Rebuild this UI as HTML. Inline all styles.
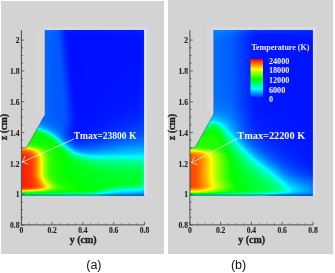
<!DOCTYPE html>
<html><head><meta charset="utf-8"><style>
html,body{margin:0;padding:0;background:#fff;width:335px;height:273px;overflow:hidden}
#c{position:relative;width:335px;height:273px}
.p{position:absolute;background:#d3d3d3}
#f i{position:absolute;height:1px;display:block}
svg{position:absolute;left:0;top:0;will-change:transform}
.tl{font:bold 7.6px "Liberation Serif",serif;fill:#202020;stroke:#202020;stroke-width:0.1px}
.al{font:bold 10px "Liberation Serif",serif;fill:#1a1a1a;stroke:#1a1a1a;stroke-width:0.3px}
.tm{font:bold 9.5px "Liberation Serif",serif;fill:#f4f6ff}
.tm2{font:bold 10.3px "Liberation Serif",serif;fill:#f4f6ff}
.lg{font:bold 8.2px "Liberation Serif",serif;fill:#eef0f8}
.pl{font:12.5px "Liberation Sans",sans-serif;fill:#111}
</style></head><body><div id="c">
<div class="p" style="left:1px;top:1px;width:163px;height:252.5px"></div>
<div class="p" style="left:168px;top:0px;width:165px;height:253.5px"></div>
<div id="f">
<i style="left:45px;top:30px;width:99px;background:linear-gradient(90deg,#0072ff 0.5px,#0066ff 8.5px,#0061ff 12.5px,#0041ff 16.5px,#001eff 20.5px,#0018ff 24.5px,#001bff 93.5px,#0026ff 98.5px)"></i>
<i style="left:45px;top:31px;width:99px;background:linear-gradient(90deg,#0070ff 0.5px,#0064ff 8.5px,#005fff 12.5px,#0049ff 15.5px,#001cff 20.5px,#0016ff 24.5px,#0019ff 93.5px,#0024ff 98.5px)"></i>
<i style="left:45px;top:32px;width:99px;background:linear-gradient(90deg,#006dff 0.5px,#0061ff 8.5px,#005dff 12.5px,#0047ff 15.5px,#001aff 20.5px,#0014ff 24.5px,#0017ff 93.5px,#0022ff 98.5px)"></i>
<i style="left:45px;top:33px;width:99px;background:linear-gradient(90deg,#006bff 0.5px,#005fff 8.5px,#005bff 12.5px,#0046ff 15.5px,#0019ff 20.5px,#0012ff 23.5px,#0015ff 93.5px,#0020ff 98.5px)"></i>
<i style="left:45px;top:34px;width:99px;background:linear-gradient(90deg,#006aff 0.5px,#005eff 8.5px,#005aff 12.5px,#0046ff 15.5px,#0019ff 20.5px,#0010ff 23.5px,#0014ff 93.5px,#001eff 98.5px)"></i>
<i style="left:45px;top:35px;width:99px;background:linear-gradient(90deg,#0069ff 0.5px,#005dff 8.5px,#0059ff 12.5px,#0046ff 15.5px,#0018ff 20.5px,#0010ff 23.5px,#0013ff 93.5px,#001dff 98.5px)"></i>
<i style="left:45px;top:36px;width:99px;background:linear-gradient(90deg,#0068ff 0.5px,#005cff 8.5px,#0059ff 12.5px,#0046ff 15.5px,#0018ff 20.5px,#000fff 23.5px,#0012ff 93.5px,#001dff 98.5px)"></i>
<i style="left:45px;top:37px;width:99px;background:linear-gradient(90deg,#0068ff 0.5px,#005cff 8.5px,#0059ff 12.5px,#0046ff 15.5px,#0019ff 20.5px,#000fff 23.5px,#0012ff 93.5px,#001cff 98.5px)"></i>
<i style="left:45px;top:38px;width:99px;background:linear-gradient(90deg,#0068ff 0.5px,#005cff 8.5px,#0055ff 13.5px,#0034ff 17.5px,#0013ff 21.5px,#000eff 26.5px,#0011ff 93.5px,#001cff 98.5px)"></i>
<i style="left:45px;top:39px;width:99px;background:linear-gradient(90deg,#0068ff 0.5px,#005cff 8.5px,#0055ff 13.5px,#0035ff 17.5px,#0014ff 21.5px,#000eff 25.5px,#0011ff 93.5px,#001cff 98.5px)"></i>
<i style="left:45px;top:40px;width:99px;background:linear-gradient(90deg,#0067ff 0.5px,#005bff 8.5px,#0056ff 13.5px,#0036ff 17.5px,#0014ff 21.5px,#000eff 25.5px,#0011ff 93.5px,#001cff 98.5px)"></i>
<i style="left:45px;top:41px;width:99px;background:linear-gradient(90deg,#0067ff 0.5px,#005bff 8.5px,#0056ff 13.5px,#0037ff 17.5px,#0015ff 21.5px,#000eff 25.5px,#0011ff 93.5px,#001cff 98.5px)"></i>
<i style="left:45px;top:42px;width:99px;background:linear-gradient(90deg,#0067ff 0.5px,#005bff 8.5px,#0056ff 13.5px,#0037ff 17.5px,#0015ff 21.5px,#000eff 24.5px,#0011ff 93.5px,#001cff 98.5px)"></i>
<i style="left:45px;top:43px;width:99px;background:linear-gradient(90deg,#0067ff 0.5px,#005bff 8.5px,#0057ff 13.5px,#0038ff 17.5px,#0016ff 21.5px,#000eff 24.5px,#0011ff 93.5px,#001cff 98.5px)"></i>
<i style="left:45px;top:44px;width:99px;background:linear-gradient(90deg,#0067ff 0.5px,#005bff 8.5px,#0057ff 13.5px,#0039ff 17.5px,#0017ff 21.5px,#000eff 24.5px,#0011ff 93.5px,#001cff 98.5px)"></i>
<i style="left:45px;top:45px;width:99px;background:linear-gradient(90deg,#0067ff 0.5px,#005bff 8.5px,#0057ff 13.5px,#0043ff 16.5px,#0017ff 21.5px,#000eff 24.5px,#0011ff 93.5px,#001cff 98.5px)"></i>
<i style="left:45px;top:46px;width:99px;background:linear-gradient(90deg,#0067ff 0.5px,#005bff 8.5px,#0057ff 13.5px,#0044ff 16.5px,#0018ff 21.5px,#000eff 24.5px,#0011ff 93.5px,#001cff 98.5px)"></i>
<i style="left:45px;top:47px;width:99px;background:linear-gradient(90deg,#0067ff 0.5px,#005bff 8.5px,#0058ff 13.5px,#0045ff 16.5px,#0019ff 21.5px,#000eff 24.5px,#0011ff 93.5px,#001cff 98.5px)"></i>
<i style="left:45px;top:48px;width:99px;background:linear-gradient(90deg,#0067ff 0.5px,#005bff 8.5px,#0058ff 13.5px,#0046ff 16.5px,#0019ff 21.5px,#000eff 24.5px,#0011ff 93.5px,#001cff 98.5px)"></i>
<i style="left:45px;top:49px;width:99px;background:linear-gradient(90deg,#0067ff 0.5px,#005bff 8.5px,#0058ff 13.5px,#0047ff 16.5px,#0014ff 22.5px,#000eff 26.5px,#0011ff 93.5px,#001cff 98.5px)"></i>
<i style="left:45px;top:50px;width:99px;background:linear-gradient(90deg,#0067ff 0.5px,#005bff 8.5px,#0058ff 13.5px,#0047ff 16.5px,#0015ff 22.5px,#000eff 26.5px,#0011ff 93.5px,#001cff 98.5px)"></i>
<i style="left:45px;top:51px;width:99px;background:linear-gradient(90deg,#0067ff 0.5px,#005bff 8.5px,#0055ff 14.5px,#0036ff 18.5px,#0015ff 22.5px,#000eff 25.5px,#0011ff 93.5px,#001cff 98.5px)"></i>
<i style="left:45px;top:52px;width:99px;background:linear-gradient(90deg,#0067ff 0.5px,#005bff 8.5px,#0056ff 14.5px,#0037ff 18.5px,#0016ff 22.5px,#000eff 25.5px,#0011ff 93.5px,#001cff 98.5px)"></i>
<i style="left:45px;top:53px;width:99px;background:linear-gradient(90deg,#0067ff 0.5px,#005bff 8.5px,#0056ff 14.5px,#0038ff 18.5px,#0017ff 22.5px,#000eff 25.5px,#0011ff 93.5px,#001cff 98.5px)"></i>
<i style="left:45px;top:54px;width:99px;background:linear-gradient(90deg,#0067ff 0.5px,#005bff 8.5px,#0056ff 14.5px,#0039ff 18.5px,#0017ff 22.5px,#000eff 25.5px,#0011ff 93.5px,#001cff 98.5px)"></i>
<i style="left:45px;top:55px;width:99px;background:linear-gradient(90deg,#0067ff 0.5px,#005bff 8.5px,#0057ff 14.5px,#003aff 18.5px,#0018ff 22.5px,#000eff 25.5px,#0011ff 93.5px,#001cff 98.5px)"></i>
<i style="left:45px;top:56px;width:99px;background:linear-gradient(90deg,#0067ff 0.5px,#005bff 8.5px,#0057ff 14.5px,#003bff 18.5px,#0019ff 22.5px,#000eff 25.5px,#0011ff 93.5px,#001cff 98.5px)"></i>
<i style="left:45px;top:57px;width:99px;background:linear-gradient(90deg,#0067ff 0.5px,#005bff 8.5px,#0057ff 14.5px,#003cff 18.5px,#0014ff 23.5px,#000eff 27.5px,#0011ff 93.5px,#001cff 98.5px)"></i>
<i style="left:45px;top:58px;width:99px;background:linear-gradient(90deg,#0067ff 0.5px,#005bff 8.5px,#0057ff 14.5px,#003dff 18.5px,#0014ff 23.5px,#000eff 27.5px,#0011ff 93.5px,#001cff 98.5px)"></i>
<i style="left:45px;top:59px;width:99px;background:linear-gradient(90deg,#0067ff 0.5px,#005bff 8.5px,#0058ff 14.5px,#0046ff 17.5px,#0015ff 23.5px,#000eff 27.5px,#0011ff 93.5px,#001cff 98.5px)"></i>
<i style="left:45px;top:60px;width:99px;background:linear-gradient(90deg,#0067ff 0.5px,#005bff 8.5px,#0058ff 14.5px,#0047ff 17.5px,#0015ff 23.5px,#000eff 27.5px,#0011ff 93.5px,#001cff 98.5px)"></i>
<i style="left:45px;top:61px;width:99px;background:linear-gradient(90deg,#0067ff 0.5px,#005bff 8.5px,#0058ff 14.5px,#0048ff 17.5px,#0016ff 23.5px,#000eff 26.5px,#0012ff 93.5px,#001cff 98.5px)"></i>
<i style="left:45px;top:62px;width:99px;background:linear-gradient(90deg,#0067ff 0.5px,#005bff 8.5px,#0058ff 14.5px,#0048ff 17.5px,#0017ff 23.5px,#000eff 26.5px,#0012ff 93.5px,#001cff 98.5px)"></i>
<i style="left:45px;top:63px;width:99px;background:linear-gradient(90deg,#0067ff 0.5px,#005bff 8.5px,#0055ff 15.5px,#0038ff 19.5px,#0017ff 23.5px,#000eff 26.5px,#0012ff 93.5px,#001cff 98.5px)"></i>
<i style="left:45px;top:64px;width:99px;background:linear-gradient(90deg,#0067ff 0.5px,#005bff 8.5px,#0056ff 15.5px,#0039ff 19.5px,#0018ff 23.5px,#000eff 26.5px,#0012ff 93.5px,#001dff 98.5px)"></i>
<i style="left:45px;top:65px;width:99px;background:linear-gradient(90deg,#0067ff 0.5px,#005bff 8.5px,#0056ff 15.5px,#003aff 19.5px,#0013ff 24.5px,#000eff 29.5px,#0012ff 93.5px,#001dff 98.5px)"></i>
<i style="left:45px;top:66px;width:99px;background:linear-gradient(90deg,#0067ff 0.5px,#005bff 8.5px,#0056ff 15.5px,#003bff 19.5px,#0014ff 24.5px,#000eff 28.5px,#0012ff 93.5px,#001dff 98.5px)"></i>
<i style="left:45px;top:67px;width:99px;background:linear-gradient(90deg,#0067ff 0.5px,#005bff 8.5px,#0057ff 15.5px,#003bff 19.5px,#0014ff 24.5px,#000eff 28.5px,#0012ff 93.5px,#001dff 98.5px)"></i>
<i style="left:45px;top:68px;width:99px;background:linear-gradient(90deg,#0067ff 0.5px,#005bff 8.5px,#0057ff 15.5px,#003cff 19.5px,#0015ff 24.5px,#000eff 28.5px,#0012ff 93.5px,#001dff 98.5px)"></i>
<i style="left:45px;top:69px;width:99px;background:linear-gradient(90deg,#0067ff 0.5px,#005bff 8.5px,#0057ff 15.5px,#003dff 19.5px,#0015ff 24.5px,#000eff 28.5px,#0012ff 93.5px,#001dff 98.5px)"></i>
<i style="left:45px;top:70px;width:99px;background:linear-gradient(90deg,#0067ff 0.5px,#005bff 8.5px,#0057ff 15.5px,#003eff 19.5px,#0016ff 24.5px,#000eff 27.5px,#0012ff 93.5px,#001dff 98.5px)"></i>
<i style="left:45px;top:71px;width:99px;background:linear-gradient(90deg,#0067ff 0.5px,#005bff 8.5px,#0058ff 15.5px,#003fff 19.5px,#0017ff 24.5px,#000eff 27.5px,#0012ff 93.5px,#001dff 98.5px)"></i>
<i style="left:45px;top:72px;width:99px;background:linear-gradient(90deg,#0067ff 0.5px,#005bff 8.5px,#0058ff 15.5px,#0040ff 19.5px,#0017ff 24.5px,#000eff 27.5px,#0012ff 93.5px,#001dff 98.5px)"></i>
<i style="left:45px;top:73px;width:99px;background:linear-gradient(90deg,#0067ff 0.5px,#005bff 8.5px,#0058ff 15.5px,#0048ff 18.5px,#0018ff 24.5px,#000eff 27.5px,#0012ff 93.5px,#001dff 98.5px)"></i>
<i style="left:45px;top:74px;width:99px;background:linear-gradient(90deg,#0067ff 0.5px,#005bff 8.5px,#0058ff 15.5px,#0049ff 18.5px,#0019ff 24.5px,#000eff 27.5px,#0012ff 93.5px,#001dff 98.5px)"></i>
<i style="left:45px;top:75px;width:99px;background:linear-gradient(90deg,#0067ff 0.5px,#005bff 8.5px,#0059ff 15.5px,#004aff 18.5px,#0014ff 25.5px,#000eff 29.5px,#0013ff 93.5px,#001dff 98.5px)"></i>
<i style="left:45px;top:76px;width:99px;background:linear-gradient(90deg,#0067ff 0.5px,#005bff 8.5px,#0056ff 16.5px,#003aff 20.5px,#0014ff 25.5px,#000eff 29.5px,#0013ff 93.5px,#001eff 98.5px)"></i>
<i style="left:45px;top:77px;width:99px;background:linear-gradient(90deg,#0067ff 0.5px,#005bff 8.5px,#0056ff 16.5px,#003bff 20.5px,#0015ff 25.5px,#000eff 29.5px,#0013ff 93.5px,#001eff 98.5px)"></i>
<i style="left:45px;top:78px;width:99px;background:linear-gradient(90deg,#0067ff 0.5px,#005bff 8.5px,#0056ff 16.5px,#003cff 20.5px,#0015ff 25.5px,#000eff 29.5px,#0013ff 93.5px,#001eff 98.5px)"></i>
<i style="left:45px;top:79px;width:99px;background:linear-gradient(90deg,#0067ff 0.5px,#005bff 8.5px,#0057ff 16.5px,#003dff 20.5px,#0016ff 25.5px,#000eff 29.5px,#0013ff 93.5px,#001eff 98.5px)"></i>
<i style="left:45px;top:80px;width:99px;background:linear-gradient(90deg,#0067ff 0.5px,#005bff 8.5px,#0057ff 16.5px,#003eff 20.5px,#0017ff 25.5px,#000eff 28.5px,#0013ff 93.5px,#001eff 98.5px)"></i>
<i style="left:45px;top:81px;width:99px;background:linear-gradient(90deg,#0067ff 0.5px,#005bff 8.5px,#0057ff 16.5px,#003fff 20.5px,#0017ff 25.5px,#000eff 28.5px,#0013ff 93.5px,#001eff 98.5px)"></i>
<i style="left:45px;top:82px;width:99px;background:linear-gradient(90deg,#0067ff 0.5px,#005bff 8.5px,#0058ff 16.5px,#003fff 20.5px,#0018ff 25.5px,#000eff 28.5px,#0014ff 93.5px,#001fff 98.5px)"></i>
<i style="left:45px;top:83px;width:99px;background:linear-gradient(90deg,#0067ff 0.5px,#005bff 8.5px,#0058ff 16.5px,#0040ff 20.5px,#0018ff 25.5px,#000eff 28.5px,#0013ff 92.5px,#001fff 98.5px)"></i>
<i style="left:45px;top:84px;width:99px;background:linear-gradient(90deg,#0067ff 0.5px,#005bff 8.5px,#0058ff 16.5px,#0041ff 20.5px,#0014ff 26.5px,#000eff 30.5px,#0014ff 93.5px,#001fff 98.5px)"></i>
<i style="left:45px;top:85px;width:99px;background:linear-gradient(90deg,#0067ff 0.5px,#005bff 8.5px,#0058ff 16.5px,#0042ff 20.5px,#0014ff 26.5px,#000eff 30.5px,#0014ff 93.5px,#001fff 98.5px)"></i>
<i style="left:45px;top:86px;width:99px;background:linear-gradient(90deg,#0067ff 0.5px,#005bff 8.5px,#0058ff 16.5px,#0042ff 20.5px,#0015ff 26.5px,#000eff 30.5px,#0014ff 93.5px,#001fff 98.5px)"></i>
<i style="left:45px;top:87px;width:99px;background:linear-gradient(90deg,#0067ff 0.5px,#005bff 8.5px,#0059ff 16.5px,#0043ff 20.5px,#0015ff 26.5px,#000eff 30.5px,#0015ff 93.5px,#0020ff 98.5px)"></i>
<i style="left:45px;top:88px;width:99px;background:linear-gradient(90deg,#0067ff 0.5px,#005bff 8.5px,#0056ff 17.5px,#003cff 21.5px,#0016ff 26.5px,#000eff 30.5px,#0015ff 93.5px,#0020ff 98.5px)"></i>
<i style="left:45px;top:89px;width:99px;background:linear-gradient(90deg,#0067ff 0.5px,#005bff 8.5px,#0056ff 17.5px,#003dff 21.5px,#0017ff 26.5px,#000eff 30.5px,#0014ff 92.5px,#0020ff 98.5px)"></i>
<i style="left:45px;top:90px;width:99px;background:linear-gradient(90deg,#0067ff 0.5px,#005bff 8.5px,#0057ff 17.5px,#003dff 21.5px,#0017ff 26.5px,#000eff 29.5px,#0014ff 92.5px,#0020ff 98.5px)"></i>
<i style="left:45px;top:91px;width:99px;background:linear-gradient(90deg,#0067ff 0.5px,#005bff 8.5px,#0057ff 17.5px,#003eff 21.5px,#0018ff 26.5px,#000eff 29.5px,#0015ff 92.5px,#0021ff 98.5px)"></i>
<i style="left:45px;top:92px;width:99px;background:linear-gradient(90deg,#0067ff 0.5px,#005bff 8.5px,#0057ff 17.5px,#003fff 21.5px,#0013ff 27.5px,#000eff 32.5px,#0015ff 92.5px,#0021ff 98.5px)"></i>
<i style="left:45px;top:93px;width:99px;background:linear-gradient(90deg,#0067ff 0.5px,#005bff 8.5px,#0057ff 17.5px,#0040ff 21.5px,#0014ff 27.5px,#000eff 31.5px,#0015ff 92.5px,#0021ff 98.5px)"></i>
<i style="left:45px;top:94px;width:99px;background:linear-gradient(90deg,#0067ff 0.5px,#005bff 8.5px,#0058ff 17.5px,#0041ff 21.5px,#0014ff 27.5px,#000eff 31.5px,#0016ff 92.5px,#0022ff 98.5px)"></i>
<i style="left:45px;top:95px;width:99px;background:linear-gradient(90deg,#0067ff 0.5px,#005bff 8.5px,#0058ff 17.5px,#0041ff 21.5px,#0015ff 27.5px,#000eff 31.5px,#0016ff 92.5px,#0022ff 98.5px)"></i>
<i style="left:45px;top:96px;width:99px;background:linear-gradient(90deg,#0067ff 0.5px,#005bff 8.5px,#0058ff 17.5px,#0042ff 21.5px,#0015ff 27.5px,#000eff 31.5px,#0016ff 92.5px,#0022ff 98.5px)"></i>
<i style="left:45px;top:97px;width:99px;background:linear-gradient(90deg,#0068ff 0.5px,#005bff 8.5px,#0058ff 17.5px,#0043ff 21.5px,#0016ff 27.5px,#000eff 31.5px,#0016ff 91.5px,#0023ff 98.5px)"></i>
<i style="left:45px;top:98px;width:99px;background:linear-gradient(90deg,#0068ff 0.5px,#005cff 7.5px,#0058ff 17.5px,#0043ff 21.5px,#0017ff 27.5px,#000eff 31.5px,#0016ff 91.5px,#0023ff 98.5px)"></i>
<i style="left:45px;top:99px;width:99px;background:linear-gradient(90deg,#0068ff 0.5px,#005cff 7.5px,#0059ff 17.5px,#0044ff 21.5px,#0017ff 27.5px,#000eff 31.5px,#0017ff 91.5px,#0024ff 98.5px)"></i>
<i style="left:45px;top:100px;width:99px;background:linear-gradient(90deg,#0068ff 0.5px,#005cff 7.5px,#0056ff 18.5px,#0035ff 23.5px,#0013ff 28.5px,#000eff 33.5px,#0017ff 91.5px,#0024ff 98.5px)"></i>
<i style="left:45px;top:101px;width:99px;background:linear-gradient(90deg,#0068ff 0.5px,#005cff 7.5px,#0056ff 18.5px,#003eff 22.5px,#0013ff 28.5px,#000eff 33.5px,#0018ff 91.5px,#0025ff 98.5px)"></i>
<i style="left:45px;top:102px;width:99px;background:linear-gradient(90deg,#0068ff 0.5px,#005cff 7.5px,#0057ff 18.5px,#003fff 22.5px,#0014ff 28.5px,#000eff 32.5px,#0017ff 89.5px,#0023ff 97.5px,#0025ff 98.5px)"></i>
<i style="left:45px;top:103px;width:99px;background:linear-gradient(90deg,#0068ff 0.5px,#005cff 7.5px,#0057ff 18.5px,#0040ff 22.5px,#0015ff 28.5px,#000eff 32.5px,#0018ff 89.5px,#0023ff 97.5px,#0026ff 98.5px)"></i>
<i style="left:45px;top:104px;width:99px;background:linear-gradient(90deg,#0068ff 0.5px,#005cff 7.5px,#0057ff 18.5px,#0040ff 22.5px,#0015ff 28.5px,#000eff 32.5px,#0018ff 87.5px,#0021ff 96.5px,#0026ff 98.5px)"></i>
<i style="left:45px;top:105px;width:99px;background:linear-gradient(90deg,#0068ff 0.5px,#005cff 7.5px,#0058ff 18.5px,#0041ff 22.5px,#0016ff 28.5px,#000eff 32.5px,#0018ff 85.5px,#001fff 95.5px,#0027ff 98.5px)"></i>
<i style="left:45px;top:106px;width:99px;background:linear-gradient(90deg,#0069ff 0.5px,#005cff 7.5px,#0058ff 18.5px,#0042ff 22.5px,#0016ff 28.5px,#000eff 32.5px,#0016ff 75.5px,#001eff 94.5px,#0028ff 98.5px)"></i>
<i style="left:45px;top:107px;width:99px;background:linear-gradient(90deg,#0069ff 0.5px,#005cff 7.5px,#0058ff 18.5px,#0043ff 22.5px,#0017ff 28.5px,#000eff 32.5px,#0016ff 73.5px,#001fff 94.5px,#0028ff 98.5px)"></i>
<i style="left:45px;top:108px;width:99px;background:linear-gradient(90deg,#0069ff 0.5px,#005cff 7.5px,#0058ff 18.5px,#0043ff 22.5px,#0018ff 28.5px,#000eff 32.5px,#0016ff 72.5px,#0020ff 94.5px,#0029ff 98.5px)"></i>
<i style="left:45px;top:109px;width:99px;background:linear-gradient(90deg,#0069ff 0.5px,#005cff 7.5px,#0059ff 18.5px,#0044ff 22.5px,#0018ff 28.5px,#000eff 32.5px,#0016ff 71.5px,#0020ff 94.5px,#002aff 98.5px)"></i>
<i style="left:45px;top:110px;width:99px;background:linear-gradient(90deg,#0069ff 0.5px,#005cff 7.5px,#0059ff 18.5px,#0045ff 22.5px,#0014ff 29.5px,#000eff 34.5px,#0017ff 71.5px,#0021ff 94.5px,#002bff 98.5px)"></i>
<i style="left:45px;top:111px;width:99px;background:linear-gradient(90deg,#006aff 0.5px,#005cff 7.5px,#0056ff 19.5px,#0036ff 24.5px,#0015ff 29.5px,#000eff 34.5px,#0017ff 70.5px,#0022ff 94.5px,#002cff 98.5px)"></i>
<i style="left:45px;top:112px;width:99px;background:linear-gradient(90deg,#006aff 0.5px,#005cff 7.5px,#0057ff 19.5px,#0037ff 24.5px,#0015ff 29.5px,#000eff 33.5px,#0017ff 69.5px,#0023ff 94.5px,#002dff 98.5px)"></i>
<i style="left:45px;top:113px;width:99px;background:linear-gradient(90deg,#006aff 0.5px,#005dff 7.5px,#0057ff 19.5px,#0038ff 24.5px,#0016ff 29.5px,#000eff 33.5px,#0017ff 68.5px,#0024ff 94.5px,#002eff 98.5px)"></i>
<i style="left:45px;top:114px;width:99px;background:linear-gradient(90deg,#006aff 0.5px,#005dff 7.5px,#0057ff 19.5px,#0039ff 24.5px,#0016ff 29.5px,#000fff 33.5px,#0017ff 67.5px,#0025ff 94.5px,#002fff 98.5px)"></i>
<i style="left:45px;top:115px;width:99px;background:linear-gradient(90deg,#006aff 0.5px,#005dff 7.5px,#0058ff 19.5px,#003aff 24.5px,#0017ff 29.5px,#000fff 33.5px,#0017ff 66.5px,#0026ff 94.5px,#0030ff 98.5px)"></i>
<i style="left:44px;top:116px;width:100px;background:linear-gradient(90deg,#006cff 0.5px,#005eff 7.5px,#0058ff 20.5px,#003aff 25.5px,#0017ff 30.5px,#000fff 34.5px,#0017ff 66.5px,#002aff 96.5px,#0031ff 99.5px)"></i>
<i style="left:43px;top:117px;width:101px;background:linear-gradient(90deg,#0070ff 0.5px,#005fff 7.5px,#0058ff 21.5px,#003aff 26.5px,#0018ff 31.5px,#000fff 35.5px,#0018ff 66.5px,#002bff 97.5px,#0033ff 100.5px)"></i>
<i style="left:43px;top:118px;width:101px;background:linear-gradient(90deg,#0070ff 0.5px,#0061ff 6.5px,#0058ff 21.5px,#003aff 26.5px,#0018ff 31.5px,#000fff 35.5px,#0018ff 65.5px,#002cff 97.5px,#0034ff 100.5px)"></i>
<i style="left:42px;top:119px;width:102px;background:linear-gradient(90deg,#0074ff 0.5px,#0063ff 6.5px,#0058ff 22.5px,#003aff 27.5px,#0018ff 32.5px,#000fff 36.5px,#0019ff 66.5px,#002eff 98.5px,#0036ff 101.5px)"></i>
<i style="left:42px;top:120px;width:102px;background:linear-gradient(90deg,#0075ff 0.5px,#0065ff 5.5px,#0058ff 22.5px,#0032ff 28.5px,#0014ff 33.5px,#0010ff 42.5px,#001cff 69.5px,#002fff 98.5px,#0037ff 101.5px)"></i>
<i style="left:41px;top:121px;width:103px;background:linear-gradient(90deg,#007bff 0.5px,#0069ff 5.5px,#005aff 22.5px,#0040ff 27.5px,#0018ff 33.5px,#0010ff 37.5px,#0019ff 65.5px,#0031ff 99.5px,#0039ff 102.5px)"></i>
<i style="left:41px;top:122px;width:103px;background:linear-gradient(90deg,#007eff 0.5px,#006cff 5.5px,#005aff 22.5px,#003fff 27.5px,#0017ff 33.5px,#0010ff 37.5px,#0019ff 64.5px,#0033ff 99.5px,#003aff 102.5px)"></i>
<i style="left:40px;top:123px;width:104px;background:linear-gradient(90deg,#0089ff 0.5px,#0072ff 5.5px,#0061ff 17.5px,#005aff 23.5px,#0036ff 29.5px,#0017ff 34.5px,#0010ff 39.5px,#001aff 65.5px,#002cff 91.5px,#0037ff 101.5px,#003cff 103.5px)"></i>
<i style="left:40px;top:124px;width:104px;background:linear-gradient(90deg,#0091ff 0.5px,#0078ff 5.5px,#0065ff 15.5px,#0059ff 23.5px,#002eff 30.5px,#0014ff 35.5px,#0014ff 54.5px,#002eff 91.5px,#0039ff 101.5px,#003eff 103.5px)"></i>
<i style="left:39px;top:125px;width:105px;background:linear-gradient(90deg,#00a7ff 0.5px,#0089ff 4.5px,#006eff 12.5px,#005dff 23.5px,#003bff 29.5px,#0017ff 35.5px,#0011ff 42.5px,#001eff 67.5px,#002fff 90.5px,#003bff 102.5px,#0040ff 104.5px)"></i>
<i style="left:38px;top:126px;width:106px;background:linear-gradient(90deg,#00c2ff 0.5px,#009cff 4.5px,#007dff 10.5px,#0065ff 20.5px,#0058ff 25.5px,#001aff 35.5px,#0012ff 40.5px,#001bff 64.5px,#0031ff 89.5px,#003bff 102.5px,#0043ff 105.5px)"></i>
<i style="left:38px;top:127px;width:106px;background:linear-gradient(90deg,#00e0ff 0.5px,#00b8ff 3.5px,#0091ff 8.5px,#0074ff 15.5px,#005dff 24.5px,#001aff 35.5px,#0013ff 40.5px,#001cff 63.5px,#0032ff 88.5px,#003dff 102.5px,#0045ff 105.5px)"></i>
<i style="left:37px;top:128px;width:107px;background:linear-gradient(90deg,#00ffca 0.5px,#00ffe9 1.5px,#00fcff 2.5px,#00c7ff 5.5px,#00a1ff 9.5px,#0082ff 14.5px,#005dff 25.5px,#001eff 35.5px,#0014ff 39.5px,#0019ff 59.5px,#0035ff 89.5px,#0040ff 103.5px,#0047ff 106.5px)"></i>
<i style="left:37px;top:129px;width:107px;background:linear-gradient(90deg,#00ff86 0.5px,#00fff6 4.5px,#00f0ff 5.5px,#00cdff 7.5px,#00a2ff 11.5px,#007eff 17.5px,#0057ff 26.5px,#001dff 35.5px,#0014ff 40.5px,#001bff 60.5px,#0037ff 89.5px,#0043ff 103.5px,#004aff 106.5px)"></i>
<i style="left:36px;top:130px;width:108px;background:linear-gradient(90deg,#00ff3a 0.5px,#00ff78 3.5px,#00ffec 7.5px,#00faff 8.5px,#00c3ff 11.5px,#00a3ff 14.5px,#007cff 20.5px,#0057ff 27.5px,#0021ff 35.5px,#0016ff 39.5px,#0019ff 56.5px,#003aff 90.5px,#0045ff 104.5px,#004dff 107.5px)"></i>
<i style="left:36px;top:131px;width:108px;background:linear-gradient(90deg,#00ff1f 0.5px,#00ff45 3.5px,#00ff6d 5.5px,#00ffdc 9.5px,#00fffb 10.5px,#00d4ff 12.5px,#00acff 15.5px,#0083ff 20.5px,#0048ff 29.5px,#0021ff 35.5px,#0017ff 40.5px,#001aff 56.5px,#003dff 89.5px,#0048ff 104.5px,#0050ff 107.5px)"></i>
<i style="left:35px;top:132px;width:109px;background:linear-gradient(90deg,#00ff07 0.5px,#00ff24 4.5px,#00ff4e 7.5px,#00ff79 9.5px,#00ffb8 11.5px,#00fffb 13.5px,#00d4ff 15.5px,#00a9ff 18.5px,#0085ff 22.5px,#002bff 34.5px,#001bff 38.5px,#0017ff 50.5px,#002eff 73.5px,#0040ff 90.5px,#004cff 105.5px,#0053ff 108.5px)"></i>
<i style="left:34px;top:133px;width:110px;background:linear-gradient(90deg,#03ff00 0.5px,#00ff0b 4.5px,#00ff20 7.5px,#00ff36 9.5px,#00ff5b 11.5px,#00ff96 13.5px,#00fffe 16.5px,#00e3ff 17.5px,#00bcff 19.5px,#0097ff 22.5px,#0032ff 34.5px,#001fff 38.5px,#0018ff 49.5px,#002eff 72.5px,#0042ff 90.5px,#004fff 106.5px,#0056ff 109.5px)"></i>
<i style="left:34px;top:134px;width:110px;background:linear-gradient(90deg,#07ff00 0.5px,#00ff05 5.5px,#00ff1c 9.5px,#00ff33 11.5px,#00ff5b 13.5px,#00ff97 15.5px,#00ffea 17.5px,#00f1ff 18.5px,#00d5ff 19.5px,#00b2ff 21.5px,#0065ff 28.5px,#0032ff 34.5px,#0020ff 38.5px,#0019ff 49.5px,#0031ff 72.5px,#0046ff 90.5px,#0053ff 106.5px,#005aff 109.5px)"></i>
<i style="left:33px;top:135px;width:111px;background:linear-gradient(90deg,#0aff00 0.5px,#00ff03 8.5px,#00ff12 11.5px,#00ff33 14.5px,#00ff45 15.5px,#00ff5d 16.5px,#00ff7f 17.5px,#00ffd8 19.5px,#00fcff 20.5px,#00dcff 21.5px,#00b6ff 23.5px,#0075ff 28.5px,#003bff 34.5px,#0025ff 38.5px,#001aff 48.5px,#002fff 70.5px,#0049ff 90.5px,#0056ff 107.5px,#005dff 110.5px)"></i>
<i style="left:33px;top:136px;width:111px;background:linear-gradient(90deg,#0bff00 0.5px,#00ff02 10.5px,#00ff12 13.5px,#00ff26 15.5px,#00ff36 16.5px,#00ff4e 17.5px,#00ff71 18.5px,#00fff9 21.5px,#00e4ff 22.5px,#00b8ff 24.5px,#007cff 28.5px,#0046ff 33.5px,#002cff 37.5px,#001dff 46.5px,#002bff 65.5px,#004dff 90.5px,#005aff 107.5px,#0061ff 110.5px)"></i>
<i style="left:32px;top:137px;width:112px;background:linear-gradient(90deg,#0cff00 0.5px,#04ff00 11.5px,#00ff06 14.5px,#00ff12 16.5px,#00ff1d 17.5px,#00ff2f 18.5px,#00ff48 19.5px,#00ff69 20.5px,#00ff92 21.5px,#00ffef 23.5px,#00ecff 24.5px,#00b9ff 26.5px,#0078ff 30.5px,#004bff 34.5px,#0030ff 38.5px,#001fff 47.5px,#002eff 66.5px,#0051ff 91.5px,#0061ff 109.5px,#0065ff 111.5px)"></i>
<i style="left:32px;top:138px;width:112px;background:linear-gradient(90deg,#0cff00 0.5px,#04ff00 13.5px,#00ff07 16.5px,#00ff1a 18.5px,#00ff43 20.5px,#00ff62 21.5px,#00ffb6 23.5px,#00ffe2 24.5px,#00f2ff 25.5px,#00d1ff 26.5px,#00a4ff 28.5px,#0074ff 31.5px,#0048ff 35.5px,#0031ff 39.5px,#0021ff 48.5px,#0036ff 69.5px,#0056ff 91.5px,#0065ff 109.5px,#006aff 111.5px)"></i>
<i style="left:31px;top:139px;width:113px;background:linear-gradient(90deg,#0dff00 0.5px,#06ff00 15.5px,#00ff00 17.5px,#00ff0d 19.5px,#00ff29 21.5px,#00ff3f 22.5px,#00ff5c 23.5px,#00ff80 24.5px,#00ffdd 26.5px,#00f5ff 27.5px,#00d2ff 28.5px,#00a2ff 30.5px,#0071ff 33.5px,#004fff 36.5px,#0036ff 40.5px,#0024ff 48.5px,#0033ff 65.5px,#005aff 91.5px,#006aff 110.5px,#006eff 112.5px)"></i>
<i style="left:31px;top:140px;width:113px;background:linear-gradient(90deg,#0dff00 0.5px,#07ff00 16.5px,#00ff04 19.5px,#00ff18 21.5px,#00ff3d 23.5px,#00ff59 24.5px,#00ff7d 25.5px,#00ffd9 27.5px,#00f7ff 28.5px,#00d2ff 29.5px,#00a2ff 31.5px,#006fff 34.5px,#004fff 37.5px,#0035ff 42.5px,#0028ff 49.5px,#003dff 69.5px,#0060ff 91.5px,#006fff 110.5px,#0073ff 112.5px)"></i>
<i style="left:30px;top:141px;width:114px;background:linear-gradient(90deg,#0fff00 0.5px,#08ff00 18.5px,#01ff00 20.5px,#00ff0d 22.5px,#00ff28 24.5px,#00ff3c 25.5px,#00ff58 26.5px,#00ff7b 27.5px,#00ffa6 28.5px,#00ffd8 29.5px,#00f7ff 30.5px,#00d4ff 31.5px,#00a1ff 33.5px,#006fff 36.5px,#0051ff 39.5px,#0037ff 44.5px,#002cff 50.5px,#0042ff 70.5px,#0065ff 92.5px,#0075ff 111.5px,#0078ff 113.5px)"></i>
<i style="left:29px;top:142px;width:115px;background:linear-gradient(90deg,#14ff00 0.5px,#08ff00 20.5px,#01ff00 22.5px,#00ff19 25.5px,#00ff3c 27.5px,#00ff57 28.5px,#00ff7a 29.5px,#00fcff 32.5px,#00d6ff 33.5px,#00b9ff 34.5px,#008fff 36.5px,#0065ff 39.5px,#0047ff 43.5px,#0033ff 49.5px,#0036ff 58.5px,#0053ff 77.5px,#006cff 94.5px,#007aff 112.5px,#007eff 114.5px)"></i>
<i style="left:29px;top:143px;width:115px;background:linear-gradient(90deg,#1cff00 0.5px,#07ff00 21.5px,#00ff01 23.5px,#00ff1a 26.5px,#00ff3d 28.5px,#00ff58 29.5px,#00ff79 30.5px,#00ffa1 31.5px,#00ffff 33.5px,#00d8ff 34.5px,#00a4ff 36.5px,#0081ff 38.5px,#005fff 41.5px,#0042ff 46.5px,#0037ff 51.5px,#004aff 69.5px,#0071ff 92.5px,#0080ff 112.5px,#0084ff 114.5px)"></i>
<i style="left:28px;top:144px;width:116px;background:linear-gradient(90deg,#2dff00 0.5px,#13ff00 13.5px,#06ff00 23.5px,#00ff02 25.5px,#00ff1c 28.5px,#00ff3e 30.5px,#00ff57 31.5px,#00ff76 32.5px,#00ff9e 33.5px,#00fffc 35.5px,#00dcff 36.5px,#00beff 37.5px,#0095ff 39.5px,#006cff 42.5px,#004fff 46.5px,#003fff 51.5px,#0045ff 62.5px,#0078ff 94.5px,#0087ff 113.5px,#008aff 115.5px)"></i>
<i style="left:28px;top:145px;width:116px;background:linear-gradient(90deg,#49ff00 0.5px,#27ff00 8.5px,#10ff00 19.5px,#00ff03 26.5px,#00ff1d 29.5px,#00ff3e 31.5px,#00ff56 32.5px,#00ff75 33.5px,#00ff9c 34.5px,#00fff7 36.5px,#00e3ff 37.5px,#00acff 39.5px,#0089ff 41.5px,#0068ff 44.5px,#004eff 48.5px,#0045ff 54.5px,#005bff 72.5px,#007fff 93.5px,#008fff 114.5px,#0091ff 115.5px)"></i>
<i style="left:27px;top:146px;width:117px;background:linear-gradient(90deg,#8cff00 0.5px,#79ff00 1.5px,#37ff00 10.5px,#1bff00 17.5px,#02ff00 27.5px,#00ff13 30.5px,#00ff2c 32.5px,#00ff56 34.5px,#00ff73 35.5px,#00ffc2 37.5px,#00ffec 38.5px,#00eaff 39.5px,#00c9ff 40.5px,#009eff 42.5px,#0077ff 45.5px,#0059ff 49.5px,#004eff 55.5px,#0062ff 72.5px,#0087ff 94.5px,#0096ff 115.5px,#0098ff 116.5px)"></i>
<i style="left:26px;top:147px;width:118px;background:linear-gradient(90deg,#e1ff00 0.5px,#c9ff00 1.5px,#afff00 3.5px,#42ff00 13.5px,#24ff00 18.5px,#00ff03 30.5px,#00ff1e 33.5px,#00ff3e 35.5px,#00ff71 37.5px,#00ff93 38.5px,#00ffe7 40.5px,#00efff 41.5px,#00cfff 42.5px,#00a5ff 44.5px,#007eff 47.5px,#0066ff 50.5px,#0059ff 55.5px,#0065ff 69.5px,#008fff 95.5px,#009fff 117.5px)"></i>
<i style="left:22px;top:148px;width:122px;background:linear-gradient(90deg,#ffb400 0.5px,#ffbc00 2.5px,#ffca00 3.5px,#ffef00 5.5px,#fffa00 6.5px,#ecff00 8.5px,#56ff00 18.5px,#37ff00 21.5px,#1cff00 26.5px,#00ff02 35.5px,#00ff1d 38.5px,#00ff3d 40.5px,#00ff6e 42.5px,#00ffb8 44.5px,#00ffe2 45.5px,#00f5ff 46.5px,#00d7ff 47.5px,#00adff 49.5px,#0085ff 52.5px,#006dff 56.5px,#0064ff 60.5px,#006fff 73.5px,#0098ff 99.5px,#00a7ff 121.5px)"></i>
<i style="left:22px;top:149px;width:122px;background:linear-gradient(90deg,#ff8f00 0.5px,#ff9b00 3.5px,#ffc200 7.5px,#ffff00 11.5px,#68ff00 19.5px,#3fff00 22.5px,#23ff00 26.5px,#00ff02 36.5px,#00ff1d 39.5px,#00ff3c 41.5px,#00ff6d 43.5px,#00ffb3 45.5px,#00fffe 47.5px,#00caff 49.5px,#00a6ff 51.5px,#008fff 53.5px,#0076ff 58.5px,#0074ff 68.5px,#00a1ff 99.5px,#00afff 121.5px)"></i>
<i style="left:22px;top:150px;width:122px;background:linear-gradient(90deg,#ff6a00 0.5px,#ff7800 4.5px,#ff9200 7.5px,#ffbd00 10.5px,#fff600 13.5px,#f2ff00 14.5px,#70ff00 20.5px,#41ff00 23.5px,#29ff00 26.5px,#14ff00 31.5px,#00ff03 37.5px,#00ff1d 40.5px,#00ff3c 42.5px,#00ff6b 44.5px,#00fff0 48.5px,#00efff 49.5px,#00d4ff 50.5px,#00b1ff 52.5px,#008bff 57.5px,#0082ff 61.5px,#0084ff 71.5px,#00abff 99.5px,#00b8ff 121.5px)"></i>
<i style="left:22px;top:151px;width:122px;background:linear-gradient(90deg,#ff5100 0.5px,#ff5e00 4.5px,#ff7500 7.5px,#ff9c00 10.5px,#ffd600 13.5px,#faff00 15.5px,#83ff00 20.5px,#4cff00 23.5px,#35ff00 25.5px,#16ff00 31.5px,#02ff00 37.5px,#00ff14 40.5px,#00ff2c 42.5px,#00ff51 44.5px,#00ff83 46.5px,#00ffe5 49.5px,#00f9ff 50.5px,#00dfff 51.5px,#00c3ff 53.5px,#00a1ff 57.5px,#0096ff 60.5px,#0091ff 70.5px,#00b6ff 99.5px,#00c1ff 121.5px)"></i>
<i style="left:22px;top:152px;width:122px;background:linear-gradient(90deg,#ff4200 0.5px,#ff4d00 4.5px,#ff6c00 8.5px,#ff9500 11.5px,#ffd400 14.5px,#f9ff00 16.5px,#7eff00 21.5px,#47ff00 24.5px,#31ff00 26.5px,#18ff00 31.5px,#00ff00 38.5px,#00ff15 41.5px,#00ff3c 44.5px,#00ff64 46.5px,#00ff99 48.5px,#00fff6 51.5px,#00f5ff 52.5px,#00cdff 55.5px,#00b3ff 58.5px,#00a7ff 63.5px,#00a1ff 70.5px,#00c2ff 100.5px,#00cbff 121.5px)"></i>
<i style="left:22px;top:153px;width:122px;background:linear-gradient(90deg,#ff3600 0.5px,#ff4500 5.5px,#ff5c00 8.5px,#ff8200 11.5px,#ffbe00 14.5px,#fff000 16.5px,#f3ff00 17.5px,#8cff00 21.5px,#4fff00 24.5px,#35ff00 26.5px,#19ff00 31.5px,#00ff01 39.5px,#00ff16 42.5px,#00ff3b 45.5px,#00ff77 48.5px,#00ffc4 51.5px,#00fffd 54.5px,#00d0ff 58.5px,#00beff 63.5px,#00b3ff 70.5px,#00ceff 102.5px,#00d6ff 121.5px)"></i>
<i style="left:22px;top:154px;width:122px;background:linear-gradient(90deg,#ff2d00 0.5px,#ff3b00 5.5px,#ff5900 9.5px,#ff8300 12.5px,#ffc400 15.5px,#fff900 17.5px,#cdff00 19.5px,#80ff00 22.5px,#47ff00 25.5px,#31ff00 27.5px,#17ff00 32.5px,#00ff03 40.5px,#00ff21 44.5px,#00ff4a 47.5px,#00ffcd 54.5px,#00fffe 57.5px,#00ecff 59.5px,#00cfff 66.5px,#00c8ff 70.5px,#00d0ff 83.5px,#00ddff 108.5px,#00e1ff 121.5px)"></i>
<i style="left:22px;top:155px;width:122px;background:linear-gradient(90deg,#ff2800 0.5px,#ff3200 5.5px,#ff4f00 9.5px,#ff7700 12.5px,#ff9d00 14.5px,#ffea00 17.5px,#f8ff00 18.5px,#8bff00 22.5px,#4dff00 25.5px,#34ff00 27.5px,#18ff00 32.5px,#00ff00 40.5px,#00ff18 44.5px,#00ff3a 47.5px,#00ffde 58.5px,#00fffe 62.5px,#00e0ff 69.5px,#00e0ff 79.5px,#00ebff 113.5px,#00edff 121.5px)"></i>
<i style="left:22px;top:156px;width:122px;background:linear-gradient(90deg,#ff2400 0.5px,#ff2d00 5.5px,#ff4700 9.5px,#ff6d00 12.5px,#ff9200 14.5px,#ffde00 17.5px,#fffb00 18.5px,#aeff00 21.5px,#65ff00 24.5px,#42ff00 26.5px,#2eff00 28.5px,#16ff00 33.5px,#00ff01 41.5px,#00ff19 45.5px,#00ff72 53.5px,#00ffb4 58.5px,#00ffe8 65.5px,#00ffff 69.5px,#00f8ff 77.5px,#00fbff 121.5px)"></i>
<i style="left:22px;top:157px;width:122px;background:linear-gradient(90deg,#ff2100 0.5px,#ff2d00 6.5px,#ff4c00 10.5px,#ff7600 13.5px,#ffa000 15.5px,#fff200 18.5px,#efff00 19.5px,#80ff00 23.5px,#56ff00 25.5px,#38ff00 27.5px,#1aff00 32.5px,#00ff03 42.5px,#00ff23 47.5px,#00ff65 54.5px,#00ff98 59.5px,#00ffd6 68.5px,#00ffe7 76.5px,#00ffeb 106.5px,#00ffee 119.5px,#00fff3 121.5px)"></i>
<i style="left:22px;top:158px;width:122px;background:linear-gradient(90deg,#ff1e00 0.5px,#ff2a00 6.5px,#ff4800 10.5px,#ff7100 13.5px,#ff9a00 15.5px,#ffec00 18.5px,#f5ff00 19.5px,#84ff00 23.5px,#59ff00 25.5px,#39ff00 27.5px,#1aff00 32.5px,#00ff01 42.5px,#00ff22 48.5px,#00ff5a 55.5px,#00ff7b 59.5px,#00ffb3 68.5px,#00ffc8 76.5px,#00ffd2 92.5px,#00ffd5 118.5px,#00ffe3 121.5px)"></i>
<i style="left:22px;top:159px;width:122px;background:linear-gradient(90deg,#ff1c00 0.5px,#ff2e00 7.5px,#ff5100 11.5px,#ff8100 14.5px,#ffcb00 17.5px,#ffe800 18.5px,#f8ff00 19.5px,#86ff00 23.5px,#5aff00 25.5px,#3aff00 27.5px,#1aff00 32.5px,#00ff03 43.5px,#00ff32 52.5px,#00ff6a 60.5px,#00ff97 68.5px,#00ffae 76.5px,#00ffbc 90.5px,#00ffbd 117.5px,#00ffc7 119.5px,#00ffd5 121.5px)"></i>
<i style="left:22px;top:160px;width:122px;background:linear-gradient(90deg,#ff1c00 0.5px,#ff2d00 7.5px,#ff5000 11.5px,#ff8000 14.5px,#ffca00 17.5px,#ffe700 18.5px,#f9ff00 19.5px,#87ff00 23.5px,#5bff00 25.5px,#3aff00 27.5px,#1aff00 32.5px,#00ff02 43.5px,#00ff2e 53.5px,#00ff76 66.5px,#00ff95 75.5px,#00ffa8 89.5px,#00ffa9 117.5px,#00ffb6 119.5px,#00ffc9 121.5px)"></i>
<i style="left:22px;top:161px;width:122px;background:linear-gradient(90deg,#ff1b00 0.5px,#ff2d00 7.5px,#ff5000 11.5px,#ff8000 14.5px,#ffca00 17.5px,#f9ff00 19.5px,#87ff00 23.5px,#5bff00 25.5px,#3aff00 27.5px,#1aff00 32.5px,#00ff01 43.5px,#00ff2b 54.5px,#00ff70 69.5px,#00ff86 77.5px,#00ff97 89.5px,#00ff98 117.5px,#00ff9d 118.5px,#00ffbe 121.5px)"></i>
<i style="left:22px;top:162px;width:122px;background:linear-gradient(90deg,#ff1b00 0.5px,#ff2d00 7.5px,#ff5000 11.5px,#ff8000 14.5px,#ffca00 17.5px,#f9ff00 19.5px,#87ff00 23.5px,#5bff00 25.5px,#3aff00 27.5px,#1aff00 32.5px,#00ff03 44.5px,#00ff28 55.5px,#00ff6a 72.5px,#00ff88 88.5px,#00ff89 117.5px,#00ff8e 118.5px,#00ffb5 121.5px)"></i>
<i style="left:22px;top:163px;width:122px;background:linear-gradient(90deg,#ff1b00 0.5px,#ff2d00 7.5px,#ff5000 11.5px,#ff8000 14.5px,#ffca00 17.5px,#f9ff00 19.5px,#87ff00 23.5px,#5bff00 25.5px,#3aff00 27.5px,#1aff00 32.5px,#00ff02 44.5px,#00ff2f 59.5px,#00ff64 75.5px,#00ff7a 89.5px,#00ff7c 117.5px,#00ff82 118.5px,#00ffac 121.5px)"></i>
<i style="left:22px;top:164px;width:122px;background:linear-gradient(90deg,#ff1b00 0.5px,#ff2d00 7.5px,#ff5000 11.5px,#ff8000 14.5px,#ffca00 17.5px,#f9ff00 19.5px,#87ff00 23.5px,#5bff00 25.5px,#3aff00 27.5px,#1aff00 32.5px,#00ff01 44.5px,#00ff31 62.5px,#00ff5a 76.5px,#00ff6f 89.5px,#00ff70 117.5px,#00ff77 118.5px,#00ffa5 121.5px)"></i>
<i style="left:22px;top:165px;width:122px;background:linear-gradient(90deg,#ff1b00 0.5px,#ff2d00 7.5px,#ff5000 11.5px,#ff8000 14.5px,#ffca00 17.5px,#f9ff00 19.5px,#87ff00 23.5px,#5bff00 25.5px,#3aff00 27.5px,#1aff00 32.5px,#00ff03 45.5px,#00ff33 65.5px,#00ff55 79.5px,#00ff64 90.5px,#00ff66 117.5px,#00ff6d 118.5px,#00ff9f 121.5px)"></i>
<i style="left:22px;top:166px;width:122px;background:linear-gradient(90deg,#ff1b00 0.5px,#ff2d00 7.5px,#ff5000 11.5px,#ff8000 14.5px,#ffca00 17.5px,#f9ff00 19.5px,#87ff00 23.5px,#5bff00 25.5px,#3aff00 27.5px,#1aff00 32.5px,#00ff03 45.5px,#00ff32 67.5px,#00ff57 85.5px,#00ff5b 101.5px,#00ff5d 117.5px,#00ff64 118.5px,#00ff99 121.5px)"></i>
<i style="left:22px;top:167px;width:122px;background:linear-gradient(90deg,#ff1b00 0.5px,#ff2d00 7.5px,#ff5000 11.5px,#ff8000 14.5px,#ffca00 17.5px,#f9ff00 19.5px,#87ff00 23.5px,#5bff00 25.5px,#3aff00 27.5px,#1aff00 32.5px,#00ff02 45.5px,#00ff31 69.5px,#00ff52 88.5px,#00ff54 117.5px,#00ff5c 118.5px,#00ff84 120.5px,#00ff94 121.5px)"></i>
<i style="left:22px;top:168px;width:122px;background:linear-gradient(90deg,#ff1b00 0.5px,#ff2d00 7.5px,#ff5000 11.5px,#ff8000 14.5px,#ffca00 17.5px,#f9ff00 19.5px,#87ff00 23.5px,#5bff00 25.5px,#3aff00 27.5px,#1aff00 32.5px,#00ff02 45.5px,#00ff2e 70.5px,#00ff4b 89.5px,#00ff4d 117.5px,#00ff55 118.5px,#00ff7f 120.5px,#00ff8f 121.5px)"></i>
<i style="left:22px;top:169px;width:122px;background:linear-gradient(90deg,#ff1b00 0.5px,#ff2d00 7.5px,#ff5000 11.5px,#ff8000 14.5px,#ffca00 17.5px,#f9ff00 19.5px,#87ff00 23.5px,#5bff00 25.5px,#3aff00 27.5px,#1aff00 32.5px,#00ff02 45.5px,#00ff2c 71.5px,#00ff45 89.5px,#00ff47 117.5px,#00ff4f 118.5px,#00ff7b 120.5px,#00ff8b 121.5px)"></i>
<i style="left:22px;top:170px;width:122px;background:linear-gradient(90deg,#ff1b00 0.5px,#ff2d00 7.5px,#ff5000 11.5px,#ff8000 14.5px,#ffca00 17.5px,#f9ff00 19.5px,#87ff00 23.5px,#5bff00 25.5px,#3aff00 27.5px,#1aff00 32.5px,#00ff02 45.5px,#00ff3f 89.5px,#00ff41 117.5px,#00ff4a 118.5px,#00ff77 120.5px,#00ff88 121.5px)"></i>
<i style="left:22px;top:171px;width:122px;background:linear-gradient(90deg,#ff1b00 0.5px,#ff2d00 7.5px,#ff5000 11.5px,#ff8000 14.5px,#ffca00 17.5px,#f9ff00 19.5px,#87ff00 23.5px,#5bff00 25.5px,#3aff00 27.5px,#1aff00 32.5px,#00ff02 45.5px,#00ff3a 89.5px,#00ff3d 117.5px,#00ff45 118.5px,#00ff73 120.5px,#00ff85 121.5px)"></i>
<i style="left:22px;top:172px;width:122px;background:linear-gradient(90deg,#ff1b00 0.5px,#ff2d00 7.5px,#ff5000 11.5px,#ff8000 14.5px,#ffca00 17.5px,#f9ff00 19.5px,#87ff00 23.5px,#5bff00 25.5px,#3aff00 27.5px,#1aff00 32.5px,#00ff02 45.5px,#00ff36 90.5px,#00ff38 117.5px,#00ff41 118.5px,#00ff70 120.5px,#00ff82 121.5px)"></i>
<i style="left:22px;top:173px;width:122px;background:linear-gradient(90deg,#ff1b00 0.5px,#ff2d00 7.5px,#ff5000 11.5px,#ff8000 14.5px,#ffca00 17.5px,#f9ff00 19.5px,#88ff00 23.5px,#5bff00 25.5px,#3aff00 27.5px,#1aff00 32.5px,#00ff02 45.5px,#00ff32 90.5px,#00ff34 117.5px,#00ff3e 118.5px,#00ff6d 120.5px,#00ff80 121.5px)"></i>
<i style="left:22px;top:174px;width:122px;background:linear-gradient(90deg,#ff1b00 0.5px,#ff2d00 7.5px,#ff5000 11.5px,#ff7f00 14.5px,#ffc900 17.5px,#fbff00 19.5px,#89ff00 23.5px,#5cff00 25.5px,#3bff00 27.5px,#1bff00 32.5px,#00ff01 45.5px,#00ff2f 90.5px,#00ff31 117.5px,#00ff3a 118.5px,#00ff6c 120.5px,#00ff7f 121.5px)"></i>
<i style="left:22px;top:175px;width:122px;background:linear-gradient(90deg,#ff1b00 0.5px,#ff2d00 7.5px,#ff4f00 11.5px,#ff7d00 14.5px,#ffab00 16.5px,#feff00 19.5px,#8dff00 23.5px,#5fff00 25.5px,#3dff00 27.5px,#21ff00 31.5px,#0dff00 38.5px,#00ff02 46.5px,#00ff2c 90.5px,#00ff2e 117.5px,#00ff38 118.5px,#00ff6b 120.5px,#00ff7e 121.5px)"></i>
<i style="left:22px;top:176px;width:122px;background:linear-gradient(90deg,#ff1b00 0.5px,#ff2c00 7.5px,#ff4d00 11.5px,#ff7a00 14.5px,#ffa600 16.5px,#fff900 19.5px,#caff00 21.5px,#7bff00 24.5px,#42ff00 27.5px,#2fff00 29.5px,#17ff00 34.5px,#00ff02 46.5px,#00ff29 89.5px,#00ff2c 117.5px,#00ff36 118.5px,#00ff6a 120.5px,#00ff7e 121.5px)"></i>
<i style="left:22px;top:177px;width:122px;background:linear-gradient(90deg,#ff1b00 0.5px,#ff2c00 7.5px,#ff4b00 11.5px,#ff7600 14.5px,#ffa000 16.5px,#fff000 19.5px,#f1ff00 20.5px,#84ff00 24.5px,#49ff00 27.5px,#32ff00 29.5px,#18ff00 34.5px,#00ff02 47.5px,#00ff26 87.5px,#00ff2a 117.5px,#00ff35 118.5px,#00ff6a 120.5px,#00ff7e 121.5px)"></i>
<i style="left:22px;top:178px;width:122px;background:linear-gradient(90deg,#ff1b00 0.5px,#ff2b00 7.5px,#ff4900 11.5px,#ff7100 14.5px,#ff9800 16.5px,#fdff00 20.5px,#90ff00 24.5px,#52ff00 27.5px,#37ff00 29.5px,#1aff00 34.5px,#00ff02 48.5px,#00ff21 82.5px,#00ff25 106.5px,#00ff26 116.5px,#00ff29 117.5px,#00ff35 118.5px,#00ff6a 120.5px,#00ff7e 121.5px)"></i>
<i style="left:22px;top:179px;width:122px;background:linear-gradient(90deg,#ff1b00 0.5px,#ff2f00 8.5px,#ff5000 12.5px,#ff7c00 15.5px,#ffbe00 18.5px,#fff400 20.5px,#efff00 21.5px,#86ff00 25.5px,#4cff00 28.5px,#34ff00 30.5px,#1aff00 35.5px,#00ff02 49.5px,#00ff1c 77.5px,#00ff23 97.5px,#00ff25 116.5px,#00ff29 117.5px,#00ff35 118.5px,#00ff6a 120.5px,#00ff7e 121.5px)"></i>
<i style="left:22px;top:180px;width:122px;background:linear-gradient(90deg,#ff1b00 0.5px,#ff2e00 8.5px,#ff4d00 12.5px,#ff7500 15.5px,#ffb200 18.5px,#ffff00 21.5px,#97ff00 25.5px,#59ff00 28.5px,#3cff00 30.5px,#22ff00 34.5px,#0fff00 41.5px,#00ff03 51.5px,#00ff1b 76.5px,#00ff21 98.5px,#00ff25 116.5px,#00ff29 117.5px,#00ff35 118.5px,#00ff6a 120.5px,#00ff7e 121.5px)"></i>
<i style="left:22px;top:181px;width:122px;background:linear-gradient(90deg,#ff1b00 0.5px,#ff2c00 8.5px,#ff5300 13.5px,#ff7e00 16.5px,#ffbc00 19.5px,#ffef00 21.5px,#f5ff00 22.5px,#91ff00 26.5px,#56ff00 29.5px,#3bff00 31.5px,#1eff00 36.5px,#00ff01 51.5px,#00ff19 74.5px,#00ff20 99.5px,#00ff23 115.5px,#00ff29 117.5px,#00ff35 118.5px,#00ff6b 120.5px,#00ff7f 121.5px)"></i>
<i style="left:22px;top:182px;width:122px;background:linear-gradient(90deg,#ff1b00 0.5px,#ff2b00 8.5px,#ff4f00 13.5px,#ff7500 16.5px,#ffae00 19.5px,#fff700 22.5px,#eeff00 23.5px,#8dff00 27.5px,#55ff00 30.5px,#3bff00 32.5px,#1eff00 37.5px,#00ff01 53.5px,#00ff19 75.5px,#00ff24 114.5px,#00ff2c 117.5px,#00ff38 118.5px,#00ff6d 120.5px,#00ff81 121.5px)"></i>
<i style="left:22px;top:183px;width:122px;background:linear-gradient(90deg,#ff1b00 0.5px,#ff2e00 9.5px,#ff5400 14.5px,#ff7c00 17.5px,#ffb600 20.5px,#fffe00 23.5px,#8bff00 28.5px,#55ff00 31.5px,#33ff00 34.5px,#18ff00 40.5px,#00ff02 55.5px,#00ff19 77.5px,#00ff29 113.5px,#00ff34 117.5px,#00ff40 118.5px,#00ff74 120.5px,#00ff88 121.5px)"></i>
<i style="left:22px;top:184px;width:122px;background:linear-gradient(90deg,#ff1a00 0.5px,#ff2d00 9.5px,#ff4f00 14.5px,#ff8300 18.5px,#ffbd00 21.5px,#fbff00 24.5px,#89ff00 29.5px,#55ff00 32.5px,#34ff00 35.5px,#19ff00 41.5px,#00ff02 57.5px,#00ff19 79.5px,#00ff21 94.5px,#00ff2d 101.5px,#00ff3a 114.5px,#00ff44 117.5px,#00ff4f 118.5px,#00ff82 120.5px,#00ff94 121.5px)"></i>
<i style="left:22px;top:185px;width:122px;background:linear-gradient(90deg,#ff1b00 0.5px,#ff2c00 9.5px,#ff4b00 14.5px,#ff7a00 18.5px,#ffaf00 21.5px,#fff200 24.5px,#f5ff00 25.5px,#87ff00 30.5px,#55ff00 33.5px,#34ff00 36.5px,#1aff00 42.5px,#00ff02 59.5px,#00ff19 81.5px,#00ff22 91.5px,#00ff3f 99.5px,#00ff52 114.5px,#00ff5c 117.5px,#00ff67 118.5px,#00ff95 120.5px,#00ffa6 121.5px)"></i>
<i style="left:22px;top:186px;width:122px;background:linear-gradient(90deg,#ff1d00 0.5px,#ff2c00 9.5px,#ff5300 15.5px,#ff8400 19.5px,#ffbb00 22.5px,#fffc00 25.5px,#82ff00 31.5px,#52ff00 34.5px,#33ff00 37.5px,#17ff00 44.5px,#00ff02 60.5px,#00ff21 87.5px,#00ff3c 93.5px,#00ff59 98.5px,#00ff70 114.5px,#00ff7a 117.5px,#00ff84 118.5px,#00ffad 120.5px,#00ffbd 121.5px)"></i>
<i style="left:22px;top:187px;width:122px;background:linear-gradient(90deg,#ff2500 0.5px,#ff3600 9.5px,#ff5e00 15.5px,#ff8e00 19.5px,#ffd600 23.5px,#ffff00 25.5px,#85ff00 31.5px,#56ff00 34.5px,#36ff00 37.5px,#19ff00 44.5px,#00ff01 61.5px,#00ff1e 83.5px,#00ff36 88.5px,#00ff76 97.5px,#00ff84 105.5px,#00ff9c 117.5px,#00ffa5 118.5px,#00ffc9 120.5px,#00ffd6 121.5px)"></i>
<i style="left:22px;top:188px;width:122px;background:linear-gradient(90deg,#ff3f00 0.5px,#ff4c00 7.5px,#ff6800 12.5px,#ff8e00 16.5px,#ffc500 20.5px,#fffa00 23.5px,#dfff00 25.5px,#84ff00 30.5px,#4cff00 34.5px,#32ff00 37.5px,#18ff00 44.5px,#00ff02 62.5px,#00ff17 78.5px,#00ff2e 83.5px,#00ff9b 97.5px,#00ffc0 117.5px,#00ffc8 118.5px,#00fff2 121.5px)"></i>
<i style="left:22px;top:189px;width:122px;background:linear-gradient(90deg,#ff7b00 0.5px,#ff8900 6.5px,#ffa600 11.5px,#ffd800 16.5px,#ffff00 19.5px,#6cff00 29.5px,#3aff00 34.5px,#22ff00 39.5px,#10ff00 48.5px,#00ff03 62.5px,#00ff13 74.5px,#00ff24 78.5px,#00ff58 84.5px,#00ff99 91.5px,#00ffc3 97.5px,#00ffe6 117.5px,#00fff7 119.5px,#00faff 120.5px,#00f1ff 121.5px)"></i>
<i style="left:22px;top:190px;width:122px;background:linear-gradient(90deg,#ffe100 0.5px,#fff000 6.5px,#feff00 9.5px,#ccff00 15.5px,#5bff00 26.5px,#3aff00 30.5px,#20ff00 36.5px,#09ff00 49.5px,#00ff03 59.5px,#00ff11 70.5px,#00ff2b 75.5px,#00ff5b 80.5px,#00ffb0 88.5px,#00ffe5 96.5px,#00fff0 100.5px,#00fcff 113.5px,#00f0ff 118.5px,#00d7ff 121.5px)"></i>
<i style="left:22px;top:191px;width:122px;background:linear-gradient(90deg,#a4ff00 0.5px,#98ff00 6.5px,#6aff00 15.5px,#31ff00 24.5px,#15ff00 31.5px,#00ff00 44.5px,#00ff1d 68.5px,#00ff3b 72.5px,#00ffd0 86.5px,#00fff3 91.5px,#00fcff 94.5px,#00ebff 99.5px,#00d0ff 118.5px,#00bfff 121.5px)"></i>
<i style="left:22px;top:192px;width:122px;background:linear-gradient(90deg,#39ff00 0.5px,#2aff00 9.5px,#00ff02 21.5px,#00ff1a 30.5px,#00ff45 67.5px,#00ff60 70.5px,#00ffcc 80.5px,#00feff 86.5px,#00e3ff 91.5px,#00cdff 99.5px,#00b6ff 118.5px,#00aaff 121.5px)"></i>
<i style="left:22px;top:193px;width:122px;background:linear-gradient(90deg,#00ff28 0.5px,#00ff46 18.5px,#00ff62 30.5px,#00ff8d 67.5px,#00ffb3 71.5px,#00fff8 79.5px,#00ffff 80.5px,#00cdff 88.5px,#00b4ff 100.5px,#009dff 120.5px,#009bff 121.5px)"></i>
<i style="left:22px;top:194px;width:122px;background:linear-gradient(90deg,#00ff7c 0.5px,#00ff92 21.5px,#00ffd0 67.5px,#00fffe 74.5px,#00baff 87.5px,#00a4ff 103.5px,#0092ff 121.5px)"></i>
<i style="left:22px;top:195px;width:122px;background:linear-gradient(90deg,#00ffaa 0.5px,#00ffb4 21.5px,#00fff1 67.5px,#00fffe 70.5px,#00aeff 88.5px,#008eff 121.5px)"></i>
<i style="left:214px;top:30px;width:99px;background:linear-gradient(90deg,#008aff 0.5px,#007aff 17.5px,#0035ff 39.5px,#0030ff 50.5px,#0030ff 98.5px)"></i>
<i style="left:214px;top:31px;width:99px;background:linear-gradient(90deg,#0085ff 0.5px,#0075ff 17.5px,#0030ff 39.5px,#002bff 50.5px,#002bff 98.5px)"></i>
<i style="left:214px;top:32px;width:99px;background:linear-gradient(90deg,#007fff 0.5px,#006fff 17.5px,#002aff 39.5px,#0025ff 50.5px,#0025ff 98.5px)"></i>
<i style="left:214px;top:33px;width:99px;background:linear-gradient(90deg,#007aff 0.5px,#006aff 17.5px,#0025ff 39.5px,#0020ff 50.5px,#0020ff 98.5px)"></i>
<i style="left:214px;top:34px;width:99px;background:linear-gradient(90deg,#0077ff 0.5px,#0066ff 17.5px,#0021ff 39.5px,#001cff 50.5px,#001cff 98.5px)"></i>
<i style="left:214px;top:35px;width:99px;background:linear-gradient(90deg,#0074ff 0.5px,#0064ff 17.5px,#001fff 39.5px,#001aff 50.5px,#001aff 98.5px)"></i>
<i style="left:214px;top:36px;width:99px;background:linear-gradient(90deg,#0072ff 0.5px,#0062ff 17.5px,#001dff 39.5px,#0018ff 50.5px,#0018ff 98.5px)"></i>
<i style="left:214px;top:37px;width:99px;background:linear-gradient(90deg,#0071ff 0.5px,#0061ff 17.5px,#001cff 39.5px,#0016ff 50.5px,#0016ff 98.5px)"></i>
<i style="left:214px;top:38px;width:99px;background:linear-gradient(90deg,#0070ff 0.5px,#0060ff 17.5px,#001bff 39.5px,#0016ff 50.5px,#0015ff 98.5px)"></i>
<i style="left:214px;top:39px;width:99px;background:linear-gradient(90deg,#006fff 0.5px,#005fff 17.5px,#001aff 39.5px,#0015ff 50.5px,#0015ff 98.5px)"></i>
<i style="left:214px;top:40px;width:99px;background:linear-gradient(90deg,#006fff 0.5px,#005fff 17.5px,#001aff 39.5px,#0014ff 50.5px,#0014ff 98.5px)"></i>
<i style="left:214px;top:41px;width:99px;background:linear-gradient(90deg,#006fff 0.5px,#005eff 17.5px,#0019ff 39.5px,#0014ff 50.5px,#0014ff 98.5px)"></i>
<i style="left:214px;top:42px;width:99px;background:linear-gradient(90deg,#006eff 0.5px,#005eff 17.5px,#0019ff 39.5px,#0014ff 50.5px,#0014ff 98.5px)"></i>
<i style="left:214px;top:43px;width:99px;background:linear-gradient(90deg,#006eff 0.5px,#005eff 17.5px,#0019ff 39.5px,#0014ff 50.5px,#0014ff 98.5px)"></i>
<i style="left:214px;top:44px;width:99px;background:linear-gradient(90deg,#006eff 0.5px,#005eff 17.5px,#0019ff 39.5px,#0013ff 50.5px,#0013ff 98.5px)"></i>
<i style="left:214px;top:45px;width:99px;background:linear-gradient(90deg,#006eff 0.5px,#005eff 17.5px,#0019ff 39.5px,#0013ff 50.5px,#0013ff 98.5px)"></i>
<i style="left:214px;top:46px;width:99px;background:linear-gradient(90deg,#006eff 0.5px,#005dff 17.5px,#0019ff 39.5px,#0013ff 50.5px,#0013ff 98.5px)"></i>
<i style="left:214px;top:47px;width:99px;background:linear-gradient(90deg,#006eff 0.5px,#005dff 17.5px,#0019ff 39.5px,#0013ff 50.5px,#0013ff 98.5px)"></i>
<i style="left:214px;top:48px;width:99px;background:linear-gradient(90deg,#006eff 0.5px,#005dff 17.5px,#0019ff 39.5px,#0013ff 50.5px,#0013ff 98.5px)"></i>
<i style="left:214px;top:49px;width:99px;background:linear-gradient(90deg,#006eff 0.5px,#005dff 17.5px,#0019ff 39.5px,#0013ff 50.5px,#0013ff 98.5px)"></i>
<i style="left:214px;top:50px;width:99px;background:linear-gradient(90deg,#006eff 0.5px,#005dff 17.5px,#0019ff 39.5px,#0013ff 50.5px,#0013ff 98.5px)"></i>
<i style="left:214px;top:51px;width:99px;background:linear-gradient(90deg,#006eff 0.5px,#005dff 17.5px,#0019ff 39.5px,#0013ff 50.5px,#0013ff 98.5px)"></i>
<i style="left:214px;top:52px;width:99px;background:linear-gradient(90deg,#006eff 0.5px,#005dff 17.5px,#0019ff 39.5px,#0013ff 50.5px,#0013ff 98.5px)"></i>
<i style="left:214px;top:53px;width:99px;background:linear-gradient(90deg,#006eff 0.5px,#005dff 17.5px,#0019ff 39.5px,#0013ff 50.5px,#0013ff 98.5px)"></i>
<i style="left:214px;top:54px;width:99px;background:linear-gradient(90deg,#006eff 0.5px,#005dff 17.5px,#0019ff 39.5px,#0013ff 50.5px,#0013ff 98.5px)"></i>
<i style="left:214px;top:55px;width:99px;background:linear-gradient(90deg,#006eff 0.5px,#005dff 17.5px,#0019ff 39.5px,#0013ff 50.5px,#0013ff 98.5px)"></i>
<i style="left:214px;top:56px;width:99px;background:linear-gradient(90deg,#006eff 0.5px,#005dff 17.5px,#0019ff 39.5px,#0013ff 50.5px,#0013ff 98.5px)"></i>
<i style="left:214px;top:57px;width:99px;background:linear-gradient(90deg,#006eff 0.5px,#005dff 17.5px,#0019ff 39.5px,#0013ff 50.5px,#0013ff 98.5px)"></i>
<i style="left:214px;top:58px;width:99px;background:linear-gradient(90deg,#006eff 0.5px,#005dff 17.5px,#0019ff 39.5px,#0013ff 50.5px,#0013ff 98.5px)"></i>
<i style="left:214px;top:59px;width:99px;background:linear-gradient(90deg,#006eff 0.5px,#005dff 17.5px,#0019ff 39.5px,#0013ff 50.5px,#0013ff 98.5px)"></i>
<i style="left:214px;top:60px;width:99px;background:linear-gradient(90deg,#006eff 0.5px,#005dff 17.5px,#0019ff 39.5px,#0013ff 50.5px,#0013ff 98.5px)"></i>
<i style="left:214px;top:61px;width:99px;background:linear-gradient(90deg,#006eff 0.5px,#005dff 17.5px,#0019ff 39.5px,#0013ff 50.5px,#0013ff 98.5px)"></i>
<i style="left:214px;top:62px;width:99px;background:linear-gradient(90deg,#006eff 0.5px,#005dff 17.5px,#0019ff 39.5px,#0013ff 50.5px,#0013ff 98.5px)"></i>
<i style="left:214px;top:63px;width:99px;background:linear-gradient(90deg,#006eff 0.5px,#005dff 17.5px,#0019ff 39.5px,#0013ff 50.5px,#0013ff 98.5px)"></i>
<i style="left:214px;top:64px;width:99px;background:linear-gradient(90deg,#006eff 0.5px,#005dff 17.5px,#0019ff 39.5px,#0013ff 50.5px,#0013ff 98.5px)"></i>
<i style="left:214px;top:65px;width:99px;background:linear-gradient(90deg,#006eff 0.5px,#005dff 17.5px,#0019ff 39.5px,#0013ff 50.5px,#0013ff 98.5px)"></i>
<i style="left:214px;top:66px;width:99px;background:linear-gradient(90deg,#006eff 0.5px,#005dff 17.5px,#0019ff 39.5px,#0013ff 50.5px,#0013ff 98.5px)"></i>
<i style="left:214px;top:67px;width:99px;background:linear-gradient(90deg,#006eff 0.5px,#005dff 17.5px,#0019ff 39.5px,#0013ff 50.5px,#0013ff 98.5px)"></i>
<i style="left:214px;top:68px;width:99px;background:linear-gradient(90deg,#006eff 0.5px,#005dff 17.5px,#0019ff 39.5px,#0013ff 50.5px,#0013ff 98.5px)"></i>
<i style="left:214px;top:69px;width:99px;background:linear-gradient(90deg,#006eff 0.5px,#005eff 17.5px,#0019ff 39.5px,#0013ff 50.5px,#0013ff 98.5px)"></i>
<i style="left:214px;top:70px;width:99px;background:linear-gradient(90deg,#006eff 0.5px,#005eff 17.5px,#0019ff 39.5px,#0013ff 50.5px,#0013ff 98.5px)"></i>
<i style="left:214px;top:71px;width:99px;background:linear-gradient(90deg,#006eff 0.5px,#005eff 17.5px,#0019ff 39.5px,#0013ff 50.5px,#0013ff 98.5px)"></i>
<i style="left:214px;top:72px;width:99px;background:linear-gradient(90deg,#006eff 0.5px,#005eff 17.5px,#0019ff 39.5px,#0013ff 50.5px,#0013ff 98.5px)"></i>
<i style="left:214px;top:73px;width:99px;background:linear-gradient(90deg,#006eff 0.5px,#005eff 17.5px,#0019ff 39.5px,#0013ff 50.5px,#0013ff 98.5px)"></i>
<i style="left:214px;top:74px;width:99px;background:linear-gradient(90deg,#006eff 0.5px,#005eff 17.5px,#0019ff 39.5px,#0013ff 50.5px,#0013ff 98.5px)"></i>
<i style="left:214px;top:75px;width:99px;background:linear-gradient(90deg,#006eff 0.5px,#005eff 17.5px,#0019ff 39.5px,#0013ff 50.5px,#0013ff 98.5px)"></i>
<i style="left:214px;top:76px;width:99px;background:linear-gradient(90deg,#006eff 0.5px,#005eff 17.5px,#0019ff 39.5px,#0013ff 50.5px,#0013ff 98.5px)"></i>
<i style="left:214px;top:77px;width:99px;background:linear-gradient(90deg,#006eff 0.5px,#005eff 17.5px,#0019ff 39.5px,#0013ff 50.5px,#0013ff 98.5px)"></i>
<i style="left:214px;top:78px;width:99px;background:linear-gradient(90deg,#006eff 0.5px,#005eff 17.5px,#0019ff 39.5px,#0013ff 50.5px,#0013ff 98.5px)"></i>
<i style="left:214px;top:79px;width:99px;background:linear-gradient(90deg,#006eff 0.5px,#005eff 17.5px,#0019ff 39.5px,#0014ff 50.5px,#0013ff 98.5px)"></i>
<i style="left:214px;top:80px;width:99px;background:linear-gradient(90deg,#006eff 0.5px,#005eff 17.5px,#0019ff 39.5px,#0014ff 50.5px,#0013ff 98.5px)"></i>
<i style="left:214px;top:81px;width:99px;background:linear-gradient(90deg,#006eff 0.5px,#005eff 17.5px,#0019ff 39.5px,#0014ff 50.5px,#0013ff 98.5px)"></i>
<i style="left:214px;top:82px;width:99px;background:linear-gradient(90deg,#006fff 0.5px,#005eff 17.5px,#0019ff 39.5px,#0014ff 50.5px,#0013ff 98.5px)"></i>
<i style="left:214px;top:83px;width:99px;background:linear-gradient(90deg,#006fff 0.5px,#005eff 17.5px,#0019ff 39.5px,#0014ff 50.5px,#0013ff 98.5px)"></i>
<i style="left:214px;top:84px;width:99px;background:linear-gradient(90deg,#006fff 0.5px,#005eff 17.5px,#0019ff 39.5px,#0014ff 50.5px,#0013ff 98.5px)"></i>
<i style="left:214px;top:85px;width:99px;background:linear-gradient(90deg,#006fff 0.5px,#005eff 17.5px,#0019ff 39.5px,#0014ff 50.5px,#0013ff 98.5px)"></i>
<i style="left:214px;top:86px;width:99px;background:linear-gradient(90deg,#006fff 0.5px,#005fff 17.5px,#0019ff 39.5px,#0014ff 50.5px,#0013ff 98.5px)"></i>
<i style="left:214px;top:87px;width:99px;background:linear-gradient(90deg,#006fff 0.5px,#005fff 17.5px,#001aff 39.5px,#0014ff 50.5px,#0013ff 98.5px)"></i>
<i style="left:214px;top:88px;width:99px;background:linear-gradient(90deg,#006fff 0.5px,#005fff 17.5px,#001aff 39.5px,#0014ff 50.5px,#0013ff 98.5px)"></i>
<i style="left:214px;top:89px;width:99px;background:linear-gradient(90deg,#0070ff 0.5px,#005fff 17.5px,#001aff 39.5px,#0014ff 50.5px,#0013ff 98.5px)"></i>
<i style="left:214px;top:90px;width:99px;background:linear-gradient(90deg,#0070ff 0.5px,#005fff 17.5px,#001aff 39.5px,#0014ff 50.5px,#0013ff 98.5px)"></i>
<i style="left:214px;top:91px;width:99px;background:linear-gradient(90deg,#0070ff 0.5px,#0060ff 17.5px,#001aff 39.5px,#0014ff 50.5px,#0013ff 98.5px)"></i>
<i style="left:214px;top:92px;width:99px;background:linear-gradient(90deg,#0071ff 0.5px,#0060ff 17.5px,#001aff 39.5px,#0014ff 50.5px,#0013ff 98.5px)"></i>
<i style="left:214px;top:93px;width:99px;background:linear-gradient(90deg,#0071ff 0.5px,#0060ff 17.5px,#001aff 39.5px,#0014ff 50.5px,#0013ff 98.5px)"></i>
<i style="left:214px;top:94px;width:99px;background:linear-gradient(90deg,#0071ff 0.5px,#0061ff 17.5px,#001aff 39.5px,#0014ff 50.5px,#0013ff 98.5px)"></i>
<i style="left:214px;top:95px;width:99px;background:linear-gradient(90deg,#0072ff 0.5px,#0061ff 17.5px,#001aff 39.5px,#0014ff 50.5px,#0013ff 98.5px)"></i>
<i style="left:214px;top:96px;width:99px;background:linear-gradient(90deg,#0072ff 0.5px,#0061ff 17.5px,#001bff 39.5px,#0014ff 50.5px,#0013ff 98.5px)"></i>
<i style="left:214px;top:97px;width:99px;background:linear-gradient(90deg,#0072ff 0.5px,#0062ff 17.5px,#001bff 39.5px,#0015ff 49.5px,#0013ff 98.5px)"></i>
<i style="left:214px;top:98px;width:99px;background:linear-gradient(90deg,#0073ff 0.5px,#0062ff 17.5px,#001bff 39.5px,#0015ff 49.5px,#0013ff 98.5px)"></i>
<i style="left:214px;top:99px;width:99px;background:linear-gradient(90deg,#0073ff 0.5px,#0063ff 17.5px,#001bff 39.5px,#0015ff 49.5px,#0013ff 98.5px)"></i>
<i style="left:214px;top:100px;width:99px;background:linear-gradient(90deg,#0074ff 0.5px,#0066ff 16.5px,#0037ff 30.5px,#001aff 40.5px,#0014ff 63.5px,#0013ff 98.5px)"></i>
<i style="left:214px;top:101px;width:99px;background:linear-gradient(90deg,#0075ff 0.5px,#0067ff 16.5px,#0037ff 30.5px,#001aff 40.5px,#0014ff 63.5px,#0013ff 98.5px)"></i>
<i style="left:214px;top:102px;width:99px;background:linear-gradient(90deg,#0076ff 0.5px,#0067ff 16.5px,#0038ff 30.5px,#001aff 40.5px,#0014ff 62.5px,#0013ff 98.5px)"></i>
<i style="left:214px;top:103px;width:99px;background:linear-gradient(90deg,#0077ff 0.5px,#0068ff 16.5px,#0038ff 30.5px,#001aff 40.5px,#0014ff 62.5px,#0013ff 98.5px)"></i>
<i style="left:214px;top:104px;width:99px;background:linear-gradient(90deg,#0078ff 0.5px,#0069ff 16.5px,#0039ff 30.5px,#001aff 40.5px,#0014ff 61.5px,#0013ff 98.5px)"></i>
<i style="left:214px;top:105px;width:99px;background:linear-gradient(90deg,#007aff 0.5px,#006aff 16.5px,#0039ff 30.5px,#001bff 40.5px,#0014ff 61.5px,#0013ff 98.5px)"></i>
<i style="left:214px;top:106px;width:99px;background:linear-gradient(90deg,#007cff 0.5px,#006cff 16.5px,#003aff 30.5px,#001bff 40.5px,#0014ff 60.5px,#0013ff 98.5px)"></i>
<i style="left:214px;top:107px;width:99px;background:linear-gradient(90deg,#007eff 0.5px,#006dff 16.5px,#0037ff 31.5px,#001aff 41.5px,#0013ff 96.5px,#0013ff 98.5px)"></i>
<i style="left:214px;top:108px;width:99px;background:linear-gradient(90deg,#0081ff 0.5px,#0071ff 15.5px,#0047ff 27.5px,#001eff 39.5px,#0016ff 49.5px,#0013ff 98.5px)"></i>
<i style="left:214px;top:109px;width:99px;background:linear-gradient(90deg,#0084ff 0.5px,#0072ff 15.5px,#0048ff 27.5px,#001eff 39.5px,#0016ff 49.5px,#0013ff 98.5px)"></i>
<i style="left:214px;top:110px;width:99px;background:linear-gradient(90deg,#0088ff 0.5px,#0074ff 15.5px,#0049ff 27.5px,#0021ff 38.5px,#0017ff 46.5px,#0013ff 98.5px)"></i>
<i style="left:214px;top:111px;width:99px;background:linear-gradient(90deg,#008cff 0.5px,#0076ff 15.5px,#0045ff 28.5px,#001fff 39.5px,#0017ff 49.5px,#0013ff 98.5px)"></i>
<i style="left:214px;top:112px;width:99px;background:linear-gradient(90deg,#0091ff 0.5px,#0076ff 16.5px,#0022ff 38.5px,#0018ff 46.5px,#0013ff 98.5px)"></i>
<i style="left:214px;top:113px;width:99px;background:linear-gradient(90deg,#0097ff 0.5px,#0078ff 16.5px,#0025ff 37.5px,#0019ff 45.5px,#0013ff 98.5px)"></i>
<i style="left:213px;top:114px;width:100px;background:linear-gradient(90deg,#009fff 0.5px,#007bff 17.5px,#0026ff 38.5px,#0019ff 46.5px,#0013ff 99.5px)"></i>
<i style="left:213px;top:115px;width:100px;background:linear-gradient(90deg,#00a5ff 0.5px,#008aff 13.5px,#0065ff 23.5px,#0027ff 38.5px,#0019ff 46.5px,#0013ff 99.5px)"></i>
<i style="left:213px;top:116px;width:100px;background:linear-gradient(90deg,#00adff 0.5px,#0099ff 9.5px,#0074ff 20.5px,#002aff 37.5px,#001aff 45.5px,#0013ff 99.5px)"></i>
<i style="left:212px;top:117px;width:101px;background:linear-gradient(90deg,#00b8ff 0.5px,#00b0ff 5.5px,#007aff 20.5px,#002bff 38.5px,#001bff 46.5px,#0013ff 100.5px)"></i>
<i style="left:211px;top:118px;width:102px;background:linear-gradient(90deg,#00c1ff 0.5px,#00c0ff 4.5px,#007dff 21.5px,#002fff 38.5px,#001cff 46.5px,#0014ff 93.5px,#0013ff 101.5px)"></i>
<i style="left:211px;top:119px;width:102px;background:linear-gradient(90deg,#00cbff 0.5px,#00ceff 4.5px,#0061ff 27.5px,#002cff 39.5px,#001cff 47.5px,#0013ff 97.5px,#0013ff 101.5px)"></i>
<i style="left:210px;top:120px;width:103px;background:linear-gradient(90deg,#00d9ff 0.5px,#00e0ff 4.5px,#003dff 36.5px,#0020ff 45.5px,#0015ff 74.5px,#0013ff 102.5px)"></i>
<i style="left:210px;top:121px;width:103px;background:linear-gradient(90deg,#00e8ff 0.5px,#00faff 4.5px,#00b4ff 14.5px,#004bff 33.5px,#0025ff 43.5px,#001aff 54.5px,#0013ff 102.5px)"></i>
<i style="left:209px;top:122px;width:104px;background:linear-gradient(90deg,#00fbff 0.5px,#00fffc 1.5px,#00ffdc 4.5px,#00ffdc 5.5px,#00fbff 8.5px,#00d2ff 12.5px,#007dff 25.5px,#0036ff 39.5px,#0020ff 47.5px,#0014ff 82.5px,#0013ff 103.5px)"></i>
<i style="left:209px;top:123px;width:104px;background:linear-gradient(90deg,#00ffe1 0.5px,#00ffb3 3.5px,#00ffab 4.5px,#00ffab 5.5px,#00ffb8 6.5px,#00fff3 9.5px,#00f9ff 10.5px,#00d7ff 13.5px,#0092ff 22.5px,#0044ff 36.5px,#0024ff 45.5px,#0018ff 64.5px,#0014ff 103.5px)"></i>
<i style="left:208px;top:124px;width:105px;background:linear-gradient(90deg,#00ffbe 0.5px,#00ffb4 1.5px,#00ff8e 3.5px,#00ff7d 5.5px,#00ff7f 6.5px,#00ff8b 7.5px,#00ffb4 9.5px,#00fffc 12.5px,#00d9ff 15.5px,#009dff 22.5px,#004fff 35.5px,#002aff 44.5px,#001dff 53.5px,#0014ff 97.5px,#0014ff 104.5px)"></i>
<i style="left:207px;top:125px;width:106px;background:linear-gradient(90deg,#00ffab 0.5px,#00ff65 4.5px,#00ff59 6.5px,#00ff5c 7.5px,#00ff78 9.5px,#00ffa5 11.5px,#00fff4 14.5px,#00f6ff 15.5px,#00cfff 18.5px,#0094ff 25.5px,#004bff 37.5px,#0028ff 46.5px,#001bff 59.5px,#0014ff 105.5px)"></i>
<i style="left:207px;top:126px;width:106px;background:linear-gradient(90deg,#00ff8f 0.5px,#00ff63 2.5px,#00ff46 4.5px,#00ff3c 6.5px,#00ff40 7.5px,#00ff5a 9.5px,#00ff83 11.5px,#00ffee 15.5px,#00f9ff 16.5px,#00d9ff 18.5px,#00a1ff 24.5px,#005dff 34.5px,#0032ff 43.5px,#0021ff 51.5px,#0015ff 85.5px,#0014ff 105.5px)"></i>
<i style="left:206px;top:127px;width:107px;background:linear-gradient(90deg,#00ff87 0.5px,#00ff75 1.5px,#00ff46 3.5px,#00ff2e 5.5px,#00ff26 7.5px,#00ff34 9.5px,#00ff53 11.5px,#00ff95 14.5px,#00ffef 17.5px,#00f6ff 18.5px,#00d7ff 20.5px,#0096ff 27.5px,#0053ff 37.5px,#002fff 45.5px,#0021ff 53.5px,#0015ff 87.5px,#0014ff 106.5px)"></i>
<i style="left:206px;top:128px;width:107px;background:linear-gradient(90deg,#00ff6f 0.5px,#00ff31 3.5px,#00ff1c 5.5px,#00ff16 7.5px,#00ff22 9.5px,#00ff4f 12.5px,#00ff7a 14.5px,#00ffb4 16.5px,#00fff5 18.5px,#00f2ff 19.5px,#00cbff 22.5px,#008bff 29.5px,#0050ff 38.5px,#002eff 46.5px,#0020ff 56.5px,#0015ff 91.5px,#0014ff 106.5px)"></i>
<i style="left:205px;top:129px;width:108px;background:linear-gradient(90deg,#00ff61 0.5px,#00ff56 1.5px,#00ff20 4.5px,#00ff0e 6.5px,#00ff09 8.5px,#00ff15 10.5px,#00ff3c 13.5px,#00ff64 15.5px,#00ff9b 17.5px,#00fff8 20.5px,#00f1ff 21.5px,#00bfff 25.5px,#0080ff 32.5px,#0047ff 41.5px,#002aff 49.5px,#0019ff 71.5px,#0014ff 107.5px)"></i>
<i style="left:205px;top:130px;width:108px;background:linear-gradient(90deg,#00ff48 0.5px,#00ff3e 1.5px,#00ff1e 3.5px,#00ff05 6.5px,#00ff00 8.5px,#00ff0a 10.5px,#00ff2d 13.5px,#00ff52 15.5px,#00ffa0 18.5px,#00fff9 21.5px,#00e1ff 23.5px,#00a8ff 28.5px,#0066ff 36.5px,#003bff 44.5px,#0028ff 51.5px,#0017ff 78.5px,#0014ff 107.5px)"></i>
<i style="left:204px;top:131px;width:109px;background:linear-gradient(90deg,#00ff2e 0.5px,#00ff2e 1.5px,#00ff1b 3.5px,#00ff02 6.5px,#07ff00 9.5px,#00ff01 11.5px,#00ff21 14.5px,#00ff58 17.5px,#00ffa4 20.5px,#00fffb 23.5px,#00d1ff 26.5px,#0092ff 32.5px,#005cff 39.5px,#0035ff 47.5px,#0025ff 56.5px,#0016ff 84.5px,#0014ff 108.5px)"></i>
<i style="left:204px;top:132px;width:109px;background:linear-gradient(90deg,#00ff1a 0.5px,#00ff14 2.5px,#01ff00 5.5px,#0cff00 9.5px,#00ff02 12.5px,#00ff26 15.5px,#00ff5d 18.5px,#00ffa9 21.5px,#00fffe 24.5px,#00cfff 27.5px,#008eff 33.5px,#0059ff 40.5px,#0037ff 47.5px,#0025ff 57.5px,#0016ff 84.5px,#0014ff 108.5px)"></i>
<i style="left:203px;top:133px;width:110px;background:linear-gradient(90deg,#00ff05 0.5px,#00ff08 2.5px,#00ff00 4.5px,#10ff00 9.5px,#0bff00 12.5px,#00ff05 14.5px,#00ff2a 17.5px,#00ff62 20.5px,#00ffcb 24.5px,#00feff 26.5px,#00daff 28.5px,#0094ff 34.5px,#005cff 41.5px,#0039ff 48.5px,#0025ff 59.5px,#0016ff 86.5px,#0014ff 109.5px)"></i>
<i style="left:202px;top:134px;width:111px;background:linear-gradient(90deg,#08ff00 0.5px,#04ff00 3.5px,#14ff00 11.5px,#09ff00 14.5px,#01ff00 15.5px,#00ff20 18.5px,#00ff53 21.5px,#00ff99 24.5px,#00ffec 27.5px,#00faff 28.5px,#00caff 31.5px,#0087ff 37.5px,#0052ff 44.5px,#0035ff 51.5px,#001fff 68.5px,#0015ff 103.5px,#0014ff 110.5px)"></i>
<i style="left:202px;top:135px;width:111px;background:linear-gradient(90deg,#10ff00 0.5px,#11ff00 5.5px,#16ff00 12.5px,#00ff02 16.5px,#00ff25 19.5px,#00ff59 22.5px,#00ff9e 25.5px,#00ffef 28.5px,#00f8ff 29.5px,#00c7ff 32.5px,#008dff 37.5px,#005cff 43.5px,#003eff 49.5px,#0026ff 62.5px,#0017ff 87.5px,#0014ff 110.5px)"></i>
<i style="left:201px;top:136px;width:112px;background:linear-gradient(90deg,#18ff00 0.5px,#16ff00 6.5px,#18ff00 13.5px,#03ff00 17.5px,#00ff10 19.5px,#00ff39 22.5px,#00ff75 25.5px,#00fff3 30.5px,#00f4ff 31.5px,#00c4ff 34.5px,#008aff 39.5px,#0059ff 45.5px,#003dff 51.5px,#0025ff 65.5px,#0017ff 90.5px,#0014ff 111.5px)"></i>
<i style="left:201px;top:137px;width:112px;background:linear-gradient(90deg,#1cff00 0.5px,#1aff00 13.5px,#08ff00 17.5px,#00ff00 18.5px,#00ff2f 22.5px,#00ff65 25.5px,#00ffc4 29.5px,#00fff7 31.5px,#00f0ff 32.5px,#00c0ff 35.5px,#0086ff 40.5px,#0057ff 46.5px,#003eff 52.5px,#0027ff 65.5px,#0017ff 89.5px,#0014ff 111.5px)"></i>
<i style="left:200px;top:138px;width:113px;background:linear-gradient(90deg,#20ff00 0.5px,#19ff00 15.5px,#04ff00 19.5px,#00ff0e 21.5px,#00ff35 24.5px,#00ff6c 27.5px,#00ffca 31.5px,#00fffe 33.5px,#00cbff 36.5px,#008dff 41.5px,#0062ff 46.5px,#0048ff 51.5px,#002dff 62.5px,#001aff 83.5px,#0014ff 112.5px)"></i>
<i style="left:200px;top:139px;width:113px;background:linear-gradient(90deg,#22ff00 0.5px,#1aff00 15.5px,#08ff00 19.5px,#00ff00 20.5px,#00ff1e 23.5px,#00ff4c 26.5px,#00ff9f 30.5px,#00ffea 33.5px,#00fcff 34.5px,#00c8ff 37.5px,#008aff 42.5px,#0060ff 47.5px,#0045ff 53.5px,#002cff 64.5px,#001aff 84.5px,#0014ff 112.5px)"></i>
<i style="left:199px;top:140px;width:114px;background:linear-gradient(90deg,#24ff00 0.5px,#1cff00 16.5px,#0bff00 20.5px,#00ff04 22.5px,#00ff24 25.5px,#00ff65 29.5px,#00ffbd 33.5px,#00ffee 35.5px,#00f9ff 36.5px,#00c4ff 39.5px,#0087ff 44.5px,#0060ff 49.5px,#003dff 58.5px,#0023ff 74.5px,#0015ff 105.5px,#0015ff 113.5px)"></i>
<i style="left:198px;top:141px;width:115px;background:linear-gradient(90deg,#25ff00 0.5px,#1dff00 17.5px,#0eff00 21.5px,#01ff00 23.5px,#00ff1d 26.5px,#00ff59 30.5px,#00ffab 34.5px,#00fff3 37.5px,#00f5ff 38.5px,#00c1ff 41.5px,#0085ff 46.5px,#0060ff 51.5px,#003dff 60.5px,#0024ff 75.5px,#0016ff 104.5px,#0015ff 114.5px)"></i>
<i style="left:198px;top:142px;width:115px;background:linear-gradient(90deg,#26ff00 0.5px,#1cff00 18.5px,#0bff00 22.5px,#00ff03 24.5px,#00ff30 28.5px,#00ff72 32.5px,#00ffdf 37.5px,#00fff6 38.5px,#00f2ff 39.5px,#00beff 42.5px,#008dff 46.5px,#0067ff 51.5px,#0043ff 59.5px,#0029ff 72.5px,#0019ff 95.5px,#0015ff 114.5px)"></i>
<i style="left:197px;top:143px;width:116px;background:linear-gradient(90deg,#27ff00 0.5px,#1dff00 19.5px,#0eff00 23.5px,#00ff00 25.5px,#00ff29 29.5px,#00ff66 33.5px,#00ffb6 37.5px,#00fffb 40.5px,#00caff 43.5px,#0096ff 47.5px,#006eff 52.5px,#004bff 59.5px,#002eff 71.5px,#001bff 91.5px,#0015ff 115.5px)"></i>
<i style="left:197px;top:144px;width:116px;background:linear-gradient(90deg,#27ff00 0.5px,#1eff00 19.5px,#0aff00 24.5px,#00ff04 26.5px,#00ff2f 30.5px,#00ff6c 34.5px,#00ffd2 39.5px,#00feff 41.5px,#00c8ff 44.5px,#0096ff 48.5px,#0068ff 54.5px,#0048ff 61.5px,#002dff 73.5px,#001aff 94.5px,#0015ff 115.5px)"></i>
<i style="left:196px;top:145px;width:117px;background:linear-gradient(90deg,#28ff00 0.5px,#1eff00 20.5px,#0dff00 25.5px,#00ff00 27.5px,#00ff28 31.5px,#00ff61 35.5px,#00ffc1 40.5px,#00ffee 42.5px,#00faff 43.5px,#00c7ff 46.5px,#0097ff 50.5px,#0069ff 56.5px,#0046ff 64.5px,#002aff 77.5px,#0019ff 100.5px,#0015ff 116.5px)"></i>
<i style="left:196px;top:146px;width:117px;background:linear-gradient(90deg,#2dff00 0.5px,#1dff00 21.5px,#09ff00 26.5px,#00ff05 28.5px,#00ff2e 32.5px,#00ff67 36.5px,#00ffc6 41.5px,#00fff0 43.5px,#00f9ff 44.5px,#00c7ff 47.5px,#008fff 52.5px,#0063ff 58.5px,#0040ff 67.5px,#0025ff 82.5px,#0016ff 110.5px,#0015ff 116.5px)"></i>
<i style="left:195px;top:147px;width:118px;background:linear-gradient(90deg,#47ff00 0.5px,#3cff00 2.5px,#19ff00 24.5px,#00ff01 29.5px,#00ff33 34.5px,#00ff6d 38.5px,#00ffdc 44.5px,#00fff1 45.5px,#00f9ff 46.5px,#00c8ff 49.5px,#0090ff 54.5px,#006aff 59.5px,#0047ff 67.5px,#002aff 81.5px,#0018ff 105.5px,#0015ff 117.5px)"></i>
<i style="left:190px;top:148px;width:123px;background:linear-gradient(90deg,#7bff00 0.5px,#7bff00 3.5px,#64ff00 6.5px,#28ff00 24.5px,#12ff00 31.5px,#01ff00 34.5px,#00ff22 38.5px,#00ff63 43.5px,#00ffca 49.5px,#00fff1 51.5px,#00f9ff 52.5px,#00bcff 56.5px,#0087ff 61.5px,#005bff 68.5px,#003dff 77.5px,#0023ff 93.5px,#0016ff 122.5px)"></i>
<i style="left:190px;top:149px;width:123px;background:linear-gradient(90deg,#a2ff00 0.5px,#a0ff00 4.5px,#79ff00 13.5px,#24ff00 28.5px,#00ff03 35.5px,#00ff32 40.5px,#00ff77 45.5px,#00ffde 51.5px,#00faff 53.5px,#00bdff 57.5px,#0088ff 62.5px,#005cff 69.5px,#003eff 78.5px,#0024ff 93.5px,#0016ff 122.5px)"></i>
<i style="left:190px;top:150px;width:123px;background:linear-gradient(90deg,#ddff00 0.5px,#d9ff00 5.5px,#baff00 11.5px,#54ff00 24.5px,#01ff00 35.5px,#00ff2c 40.5px,#00ff7b 46.5px,#00fff0 53.5px,#00fcff 54.5px,#00caff 57.5px,#009bff 61.5px,#0067ff 68.5px,#0047ff 76.5px,#0029ff 90.5px,#0018ff 115.5px,#0016ff 122.5px)"></i>
<i style="left:190px;top:151px;width:123px;background:linear-gradient(90deg,#ffe300 0.5px,#ffe800 5.5px,#fffc00 9.5px,#e3ff00 13.5px,#09ff00 35.5px,#00ff00 36.5px,#00ff48 43.5px,#00ff9c 49.5px,#00fcff 55.5px,#00cbff 58.5px,#009dff 62.5px,#006eff 68.5px,#004eff 75.5px,#002eff 88.5px,#001aff 110.5px,#0016ff 122.5px)"></i>
<i style="left:190px;top:152px;width:123px;background:linear-gradient(90deg,#ffad00 0.5px,#ffaf00 4.5px,#ffc900 9.5px,#ffff00 15.5px,#41ff00 31.5px,#00ff02 37.5px,#00ff59 45.5px,#00ffcc 53.5px,#00fcff 56.5px,#00cbff 59.5px,#008bff 65.5px,#0064ff 71.5px,#003eff 82.5px,#0024ff 97.5px,#0017ff 122.5px)"></i>
<i style="left:190px;top:153px;width:123px;background:linear-gradient(90deg,#ff8500 0.5px,#ff8800 4.5px,#ffa600 9.5px,#ffde00 15.5px,#fcff00 18.5px,#8eff00 26.5px,#08ff00 37.5px,#00ff05 38.5px,#00ff69 47.5px,#00ffcc 54.5px,#00fcff 57.5px,#00cdff 60.5px,#0095ff 65.5px,#006aff 71.5px,#0041ff 82.5px,#0027ff 96.5px,#0017ff 120.5px,#0017ff 122.5px)"></i>
<i style="left:190px;top:154px;width:123px;background:linear-gradient(90deg,#ff7000 0.5px,#ff7400 4.5px,#ff9400 9.5px,#ffda00 16.5px,#fdff00 19.5px,#98ff00 26.5px,#01ff00 38.5px,#00ff60 47.5px,#00ffaf 53.5px,#00fdff 58.5px,#00b5ff 63.5px,#0086ff 68.5px,#0063ff 74.5px,#003aff 86.5px,#0021ff 103.5px,#0017ff 122.5px)"></i>
<i style="left:190px;top:155px;width:123px;background:linear-gradient(90deg,#ff6600 0.5px,#ff6a00 4.5px,#ff8b00 9.5px,#ffd300 16.5px,#fffa00 19.5px,#e7ff00 21.5px,#9cff00 26.5px,#06ff00 38.5px,#00ff06 39.5px,#00ff62 48.5px,#00ffbe 55.5px,#00fffd 59.5px,#00c2ff 63.5px,#008fff 68.5px,#0069ff 74.5px,#0040ff 85.5px,#0024ff 101.5px,#0017ff 122.5px)"></i>
<i style="left:190px;top:156px;width:123px;background:linear-gradient(90deg,#ff5f00 0.5px,#ff6200 4.5px,#ff8500 9.5px,#ffce00 16.5px,#fff500 19.5px,#fbff00 20.5px,#a0ff00 26.5px,#0aff00 38.5px,#00ff02 39.5px,#00ff64 49.5px,#00ffda 58.5px,#00fffb 60.5px,#00c3ff 64.5px,#0091ff 69.5px,#0066ff 76.5px,#0041ff 86.5px,#0024ff 102.5px,#0018ff 122.5px)"></i>
<i style="left:190px;top:157px;width:123px;background:linear-gradient(90deg,#ff5900 0.5px,#ff5c00 4.5px,#ff7600 8.5px,#ffbe00 15.5px,#ffff00 20.5px,#a3ff00 26.5px,#25ff00 36.5px,#02ff00 39.5px,#00ff5c 49.5px,#00ffca 58.5px,#00fffb 61.5px,#00c5ff 65.5px,#009bff 69.5px,#006dff 76.5px,#0045ff 86.5px,#0027ff 101.5px,#0018ff 122.5px)"></i>
<i style="left:190px;top:158px;width:123px;background:linear-gradient(90deg,#ff5300 0.5px,#ff5700 4.5px,#ff6800 7.5px,#ffaf00 14.5px,#fffb00 20.5px,#e4ff00 22.5px,#a5ff00 26.5px,#28ff00 36.5px,#05ff00 39.5px,#00ff10 41.5px,#00ff55 49.5px,#00ffbc 58.5px,#00fffa 62.5px,#00e2ff 64.5px,#00b1ff 68.5px,#0081ff 74.5px,#0054ff 83.5px,#0033ff 95.5px,#001eff 112.5px,#0019ff 122.5px)"></i>
<i style="left:190px;top:159px;width:123px;background:linear-gradient(90deg,#ff4f00 0.5px,#ff5300 4.5px,#ff6d00 8.5px,#ffc300 16.5px,#fff800 20.5px,#f6ff00 21.5px,#a7ff00 26.5px,#2aff00 36.5px,#00ff03 40.5px,#00ff4e 49.5px,#00ffae 58.5px,#00fff9 63.5px,#00f4ff 64.5px,#00c9ff 67.5px,#0091ff 73.5px,#005dff 82.5px,#003aff 93.5px,#0022ff 108.5px,#0019ff 122.5px)"></i>
<i style="left:190px;top:160px;width:123px;background:linear-gradient(90deg,#ff4c00 0.5px,#ff4c00 3.5px,#ff6100 7.5px,#ffa900 14.5px,#fff600 20.5px,#f9ff00 21.5px,#a9ff00 26.5px,#2cff00 36.5px,#00ff00 40.5px,#00ff47 49.5px,#00ffa2 58.5px,#00ffe7 63.5px,#00fff8 64.5px,#00f5ff 65.5px,#00c2ff 69.5px,#008dff 75.5px,#005fff 83.5px,#003bff 94.5px,#0022ff 109.5px,#001aff 122.5px)"></i>
<i style="left:190px;top:161px;width:123px;background:linear-gradient(90deg,#ff4a00 0.5px,#ff4d00 4.5px,#ff6700 8.5px,#ffc000 16.5px,#fff500 20.5px,#faff00 21.5px,#9dff00 27.5px,#2eff00 36.5px,#02ff00 40.5px,#00ff42 49.5px,#00ff97 58.5px,#00ffd6 63.5px,#00fff5 65.5px,#00f9ff 66.5px,#00c5ff 70.5px,#0090ff 76.5px,#0061ff 84.5px,#0039ff 96.5px,#0022ff 111.5px,#001aff 122.5px)"></i>
<i style="left:190px;top:162px;width:123px;background:linear-gradient(90deg,#ff4900 0.5px,#ff4c00 4.5px,#ff6600 8.5px,#ffbf00 16.5px,#fff400 20.5px,#fbff00 21.5px,#9dff00 27.5px,#2fff00 36.5px,#04ff00 40.5px,#00ff12 43.5px,#00ff45 50.5px,#00ff97 59.5px,#00ffd5 64.5px,#00fdff 67.5px,#00beff 72.5px,#008bff 78.5px,#005eff 86.5px,#0039ff 97.5px,#0021ff 113.5px,#001bff 122.5px)"></i>
<i style="left:190px;top:163px;width:123px;background:linear-gradient(90deg,#ff4800 0.5px,#ff4c00 4.5px,#ff6500 8.5px,#ffbf00 16.5px,#fff400 20.5px,#fbff00 21.5px,#9eff00 27.5px,#30ff00 36.5px,#06ff00 40.5px,#00ff03 41.5px,#00ff3f 50.5px,#00ff8c 59.5px,#00ffd2 65.5px,#00fffb 68.5px,#00c2ff 73.5px,#008eff 79.5px,#0060ff 87.5px,#003aff 98.5px,#0023ff 113.5px,#001cff 122.5px)"></i>
<i style="left:190px;top:164px;width:123px;background:linear-gradient(90deg,#ff4800 0.5px,#ff4c00 4.5px,#ff6500 8.5px,#ffbf00 16.5px,#fff400 20.5px,#fbff00 21.5px,#9eff00 27.5px,#31ff00 36.5px,#00ff01 41.5px,#00ff3a 50.5px,#00ff8c 60.5px,#00ffdb 67.5px,#00fff7 69.5px,#00f7ff 70.5px,#00bbff 75.5px,#0082ff 82.5px,#0054ff 91.5px,#0034ff 102.5px,#001eff 120.5px,#001dff 122.5px)"></i>
<i style="left:190px;top:165px;width:123px;background:linear-gradient(90deg,#ff4800 0.5px,#ff4c00 4.5px,#ff6500 8.5px,#ffbf00 16.5px,#fff400 20.5px,#fbff00 21.5px,#9eff00 27.5px,#3bff00 35.5px,#00ff00 41.5px,#00ff36 50.5px,#00ff82 60.5px,#00ffcb 67.5px,#00fcff 71.5px,#00beff 76.5px,#0085ff 83.5px,#0055ff 92.5px,#0037ff 102.5px,#001fff 120.5px,#001eff 122.5px)"></i>
<i style="left:190px;top:166px;width:123px;background:linear-gradient(90deg,#ff4800 0.5px,#ff4c00 4.5px,#ff6500 8.5px,#ffbf00 16.5px,#fff400 20.5px,#fbff00 21.5px,#9eff00 27.5px,#3cff00 35.5px,#02ff00 41.5px,#00ff31 50.5px,#00ff82 61.5px,#00ffbc 67.5px,#00fffd 72.5px,#00c2ff 77.5px,#008eff 83.5px,#005bff 92.5px,#003aff 102.5px,#0022ff 119.5px,#0020ff 122.5px)"></i>
<i style="left:190px;top:167px;width:123px;background:linear-gradient(90deg,#ff4800 0.5px,#ff4c00 4.5px,#ff6500 8.5px,#ffbf00 16.5px,#fff400 20.5px,#fbff00 21.5px,#9eff00 27.5px,#3cff00 35.5px,#03ff00 41.5px,#00ff27 49.5px,#00ff79 61.5px,#00ffba 68.5px,#00fff9 73.5px,#00f6ff 74.5px,#00bcff 79.5px,#0083ff 86.5px,#0057ff 94.5px,#0037ff 105.5px,#0021ff 122.5px)"></i>
<i style="left:190px;top:168px;width:123px;background:linear-gradient(90deg,#ff4800 0.5px,#ff4c00 4.5px,#ff6500 8.5px,#ffbf00 16.5px,#fff400 20.5px,#fbff00 21.5px,#9eff00 27.5px,#3dff00 35.5px,#04ff00 41.5px,#00ff0a 44.5px,#00ff55 57.5px,#00ff90 65.5px,#00ffcd 71.5px,#00fbff 75.5px,#00bfff 80.5px,#0085ff 87.5px,#005dff 94.5px,#003dff 104.5px,#0023ff 122.5px)"></i>
<i style="left:190px;top:169px;width:123px;background:linear-gradient(90deg,#ff4800 0.5px,#ff4c00 4.5px,#ff6500 8.5px,#ffbf00 16.5px,#fff400 20.5px,#fbff00 21.5px,#9eff00 27.5px,#3dff00 35.5px,#05ff00 41.5px,#00ff04 43.5px,#00ff33 52.5px,#00ff76 63.5px,#00ffb4 70.5px,#00ffef 75.5px,#00fffd 76.5px,#00c3ff 81.5px,#0087ff 88.5px,#005fff 95.5px,#003fff 105.5px,#0025ff 122.5px)"></i>
<i style="left:190px;top:170px;width:123px;background:linear-gradient(90deg,#ff4800 0.5px,#ff4c00 4.5px,#ff6500 8.5px,#ffbf00 16.5px,#fff400 20.5px,#fbff00 21.5px,#9eff00 27.5px,#3dff00 35.5px,#06ff00 41.5px,#00ff03 43.5px,#00ff3f 55.5px,#00ff75 64.5px,#00ffb1 71.5px,#00ffea 76.5px,#00fff9 77.5px,#00f7ff 78.5px,#00b3ff 84.5px,#007bff 91.5px,#0055ff 99.5px,#0036ff 112.5px,#0028ff 122.5px)"></i>
<i style="left:190px;top:171px;width:123px;background:linear-gradient(90deg,#ff4800 0.5px,#ff4c00 4.5px,#ff6500 8.5px,#ffbf00 16.5px,#fff400 20.5px,#fbff00 21.5px,#9eff00 27.5px,#3eff00 35.5px,#07ff00 41.5px,#00ff06 44.5px,#00ff60 62.5px,#00ff9c 70.5px,#00ffd9 76.5px,#00fcff 79.5px,#00b5ff 85.5px,#0083ff 91.5px,#005bff 99.5px,#003aff 112.5px,#002bff 122.5px)"></i>
<i style="left:190px;top:172px;width:123px;background:linear-gradient(90deg,#ff4800 0.5px,#ff4c00 4.5px,#ff6500 8.5px,#ffbf00 16.5px,#fff400 20.5px,#fbff00 21.5px,#9eff00 27.5px,#3eff00 35.5px,#08ff00 41.5px,#00ff04 44.5px,#00ff60 63.5px,#00ffa2 72.5px,#00ffe1 78.5px,#00fffc 80.5px,#00b7ff 86.5px,#008cff 91.5px,#0065ff 98.5px,#0043ff 110.5px,#002eff 122.5px)"></i>
<i style="left:190px;top:173px;width:123px;background:linear-gradient(90deg,#ff4800 0.5px,#ff4c00 4.5px,#ff6500 8.5px,#ffbf00 16.5px,#fff400 20.5px,#fbff00 21.5px,#9eff00 27.5px,#3eff00 35.5px,#08ff00 41.5px,#00ff03 44.5px,#00ff5a 63.5px,#00ff9f 73.5px,#00ffdd 79.5px,#00fff8 81.5px,#00f8ff 82.5px,#00b9ff 87.5px,#0087ff 93.5px,#0064ff 100.5px,#0040ff 114.5px,#0032ff 122.5px)"></i>
<i style="left:190px;top:174px;width:123px;background:linear-gradient(90deg,#ff4800 0.5px,#ff4c00 4.5px,#ff6500 8.5px,#ffbf00 16.5px,#fff400 20.5px,#fbff00 21.5px,#9eff00 27.5px,#3eff00 35.5px,#09ff00 41.5px,#00ff02 44.5px,#00ff54 63.5px,#00ff94 73.5px,#00ffcd 79.5px,#00fff4 82.5px,#00faff 83.5px,#00c5ff 87.5px,#0098ff 92.5px,#006fff 99.5px,#004cff 111.5px,#0036ff 122.5px)"></i>
<i style="left:190px;top:175px;width:123px;background:linear-gradient(90deg,#ff4800 0.5px,#ff4c00 4.5px,#ff6500 8.5px,#ffbf00 16.5px,#fbff00 21.5px,#9eff00 27.5px,#3eff00 35.5px,#0aff00 41.5px,#00ff02 44.5px,#00ff54 64.5px,#00ff91 74.5px,#00ffbe 79.5px,#00fcff 84.5px,#00c8ff 88.5px,#009aff 93.5px,#0077ff 99.5px,#0052ff 111.5px,#003bff 122.5px)"></i>
<i style="left:190px;top:176px;width:123px;background:linear-gradient(90deg,#ff4800 0.5px,#ff4c00 4.5px,#ff6500 8.5px,#ffbe00 16.5px,#fcff00 21.5px,#9fff00 27.5px,#3fff00 35.5px,#0aff00 41.5px,#00ff04 45.5px,#00ff4e 64.5px,#00ff8e 75.5px,#00ffbb 80.5px,#00fff0 84.5px,#00fdff 85.5px,#00bfff 90.5px,#008fff 96.5px,#0069ff 105.5px,#0040ff 122.5px)"></i>
<i style="left:190px;top:177px;width:123px;background:linear-gradient(90deg,#ff4800 0.5px,#ff4c00 4.5px,#ff6500 8.5px,#ffbe00 16.5px,#fdff00 21.5px,#a0ff00 27.5px,#40ff00 35.5px,#0bff00 41.5px,#00ff03 45.5px,#00ff4e 65.5px,#00ff85 75.5px,#00ffae 80.5px,#00ffdf 84.5px,#00fffd 86.5px,#00ccff 90.5px,#009fff 95.5px,#0078ff 103.5px,#0045ff 122.5px)"></i>
<i style="left:190px;top:178px;width:123px;background:linear-gradient(90deg,#ff4800 0.5px,#ff4b00 4.5px,#ff6500 8.5px,#ffbd00 16.5px,#feff00 21.5px,#a2ff00 27.5px,#42ff00 35.5px,#07ff00 42.5px,#00ff02 45.5px,#00ff4a 65.5px,#00ff82 76.5px,#00ffac 81.5px,#00ffeb 86.5px,#00fffb 87.5px,#00d9ff 90.5px,#00a9ff 95.5px,#0084ff 102.5px,#004bff 122.5px)"></i>
<i style="left:190px;top:179px;width:123px;background:linear-gradient(90deg,#ff4800 0.5px,#ff4b00 4.5px,#ff6400 8.5px,#ffbb00 16.5px,#fffd00 21.5px,#a4ff00 27.5px,#3bff00 36.5px,#09ff00 42.5px,#00ff02 45.5px,#00ff4a 66.5px,#00ff7a 76.5px,#00ffa1 81.5px,#00ffdb 86.5px,#00fff9 88.5px,#00e7ff 90.5px,#00bcff 94.5px,#0091ff 101.5px,#0051ff 122.5px)"></i>
<i style="left:190px;top:180px;width:123px;background:linear-gradient(90deg,#ff4800 0.5px,#ff4b00 4.5px,#ff6300 8.5px,#ffb900 16.5px,#fffa00 21.5px,#e5ff00 23.5px,#a8ff00 27.5px,#3eff00 36.5px,#0bff00 42.5px,#00ff01 45.5px,#00ff46 66.5px,#00ff72 76.5px,#00ffa0 82.5px,#00ffda 87.5px,#00fff8 89.5px,#00f7ff 90.5px,#00d1ff 93.5px,#00a5ff 99.5px,#0085ff 107.5px,#0058ff 122.5px)"></i>
<i style="left:190px;top:181px;width:123px;background:linear-gradient(90deg,#ff4800 0.5px,#ff4b00 4.5px,#ff6200 8.5px,#ffb700 16.5px,#fff700 21.5px,#f9ff00 22.5px,#9fff00 28.5px,#42ff00 36.5px,#08ff00 43.5px,#00ff03 46.5px,#00ff46 67.5px,#00ff71 77.5px,#00ff9f 83.5px,#00ffd8 88.5px,#00fff7 90.5px,#00f7ff 91.5px,#00d4ff 94.5px,#00a9ff 100.5px,#0085ff 110.5px,#005eff 122.5px)"></i>
<i style="left:190px;top:182px;width:123px;background:linear-gradient(90deg,#ff4800 0.5px,#ff4a00 4.5px,#ff6100 8.5px,#ffb500 16.5px,#fdff00 22.5px,#a3ff00 28.5px,#3dff00 37.5px,#05ff00 44.5px,#00ff08 48.5px,#00ff46 68.5px,#00ff6a 77.5px,#00ff95 83.5px,#00ffca 88.5px,#00fff7 91.5px,#00f8ff 92.5px,#00ceff 96.5px,#00adff 101.5px,#0065ff 122.5px)"></i>
<i style="left:190px;top:183px;width:123px;background:linear-gradient(90deg,#ff4800 0.5px,#ff4a00 4.5px,#ff6000 8.5px,#ffb200 16.5px,#fffd00 22.5px,#9bff00 29.5px,#41ff00 37.5px,#07ff00 44.5px,#00ff04 47.5px,#00ff4f 72.5px,#00ff6f 79.5px,#00ff9d 85.5px,#00ffca 89.5px,#00fff6 92.5px,#00faff 93.5px,#00d0ff 97.5px,#00adff 103.5px,#006bff 122.5px)"></i>
<i style="left:190px;top:184px;width:123px;background:linear-gradient(90deg,#ff4800 0.5px,#ff4a00 4.5px,#ff6000 8.5px,#ffb000 16.5px,#fff900 22.5px,#f6ff00 23.5px,#a0ff00 29.5px,#3cff00 38.5px,#05ff00 45.5px,#00ff06 48.5px,#00ff52 74.5px,#00ff75 81.5px,#00ffa6 87.5px,#00fcff 94.5px,#00dbff 97.5px,#00baff 102.5px,#0079ff 120.5px,#0071ff 122.5px)"></i>
<i style="left:190px;top:185px;width:123px;background:linear-gradient(90deg,#ff4900 0.5px,#ff4a00 4.5px,#ff5f00 8.5px,#ffae00 16.5px,#fff600 22.5px,#faff00 23.5px,#a4ff00 29.5px,#40ff00 38.5px,#02ff00 46.5px,#00ff51 75.5px,#00ff74 82.5px,#00ff9b 87.5px,#00ffe3 93.5px,#00fdff 95.5px,#00dcff 98.5px,#00beff 103.5px,#0084ff 119.5px,#0077ff 122.5px)"></i>
<i style="left:190px;top:186px;width:123px;background:linear-gradient(90deg,#ff4d00 0.5px,#ff4e00 4.5px,#ff6300 8.5px,#ffaf00 16.5px,#fff500 22.5px,#fbff00 23.5px,#a6ff00 29.5px,#43ff00 38.5px,#04ff00 46.5px,#00ff07 49.5px,#00ff51 76.5px,#00ff73 83.5px,#00ff9b 88.5px,#00ffd4 93.5px,#00fdff 96.5px,#00deff 99.5px,#00beff 105.5px,#008fff 118.5px,#007cff 122.5px)"></i>
<i style="left:190px;top:187px;width:123px;background:linear-gradient(90deg,#ff5b00 0.5px,#ff5c00 4.5px,#ff7000 8.5px,#ffb700 16.5px,#fffc00 22.5px,#d9ff00 25.5px,#98ff00 30.5px,#3bff00 39.5px,#05ff00 46.5px,#00ff06 49.5px,#00ff50 77.5px,#00ff73 84.5px,#00ffa4 90.5px,#00ffd4 94.5px,#00fdff 97.5px,#00e0ff 100.5px,#00c2ff 106.5px,#0094ff 118.5px,#0081ff 122.5px)"></i>
<i style="left:190px;top:188px;width:123px;background:linear-gradient(90deg,#ff7600 0.5px,#ff7800 4.5px,#ff9000 9.5px,#ffca00 16.5px,#feff00 21.5px,#99ff00 29.5px,#3fff00 38.5px,#05ff00 46.5px,#00ff09 50.5px,#00ff50 78.5px,#00ff73 85.5px,#00ffa3 91.5px,#00ffe3 96.5px,#00feff 98.5px,#00e2ff 101.5px,#00c1ff 108.5px,#0099ff 118.5px,#0085ff 122.5px)"></i>
<i style="left:190px;top:189px;width:123px;background:linear-gradient(90deg,#ff9d00 0.5px,#ffa100 5.5px,#ffc000 11.5px,#fffc00 18.5px,#e1ff00 21.5px,#88ff00 29.5px,#36ff00 38.5px,#07ff00 45.5px,#00ff03 48.5px,#00ff4d 78.5px,#00ff6e 85.5px,#00ff9b 91.5px,#00ffd6 96.5px,#00fdff 99.5px,#00e2ff 102.5px,#00c0ff 110.5px,#0091ff 120.5px,#0088ff 122.5px)"></i>
<i style="left:190px;top:190px;width:123px;background:linear-gradient(90deg,#ffcc00 0.5px,#ffcf00 5.5px,#ffeb00 11.5px,#feff00 14.5px,#4eff00 33.5px,#0fff00 42.5px,#00ff00 46.5px,#00ff49 76.5px,#00ff6d 84.5px,#00ffa7 92.5px,#00ffdf 97.5px,#00fffb 99.5px,#00e4ff 102.5px,#00c4ff 109.5px,#0098ff 119.5px,#008aff 122.5px)"></i>
<i style="left:190px;top:191px;width:123px;background:linear-gradient(90deg,#f9ff00 0.5px,#f6ff00 5.5px,#dcff00 11.5px,#8fff00 21.5px,#27ff00 34.5px,#01ff00 41.5px,#00ff49 70.5px,#00ff73 80.5px,#00ffc7 93.5px,#00fff8 98.5px,#00fbff 99.5px,#00dcff 102.5px,#00bdff 109.5px,#0088ff 122.5px)"></i>
<i style="left:190px;top:192px;width:123px;background:linear-gradient(90deg,#a5ff00 0.5px,#a0ff00 5.5px,#7dff00 13.5px,#01ff00 31.5px,#00ff24 39.5px,#00ff71 69.5px,#00ffaf 81.5px,#00ffe6 90.5px,#00fdff 95.5px,#00c2ff 103.5px,#0083ff 122.5px)"></i>
<i style="left:190px;top:193px;width:123px;background:linear-gradient(90deg,#27ff00 0.5px,#19ff00 7.5px,#00ff01 14.5px,#00ff57 32.5px,#00ff93 58.5px,#00ffae 69.5px,#00fffd 83.5px,#00dfff 89.5px,#00bcff 99.5px,#00a3ff 105.5px,#007eff 122.5px)"></i>
<i style="left:190px;top:194px;width:123px;background:linear-gradient(90deg,#00ff5b 0.5px,#00ff77 17.5px,#00ffa3 35.5px,#00ffdd 68.5px,#00fcff 75.5px,#00b4ff 88.5px,#0089ff 111.5px,#007aff 122.5px)"></i>
<i style="left:190px;top:195px;width:123px;background:linear-gradient(90deg,#00ffa0 0.5px,#00ffb0 21.5px,#00fff6 68.5px,#00ffff 70.5px,#009fff 88.5px,#0078ff 122.5px)"></i>
</div>
<svg width="335" height="273" viewBox="0 0 335 273">
<rect x="42.4" y="27" width="2.7" height="87.5" fill="#cfd7ea"/><rect x="38.0" y="27" width="4.4" height="85" fill="#dad6d2" opacity="0.8"/><rect x="45.1" y="27" width="99.3" height="2.7" fill="#d9d9e6"/><rect x="144.4" y="27" width="2.6" height="168.5" fill="#dcdcea"/><rect x="210.9" y="27" width="2.7" height="87.5" fill="#cfd7ea"/><rect x="206.5" y="27" width="4.4" height="85" fill="#dad6d2" opacity="0.8"/><rect x="213.6" y="27" width="99.3" height="2.7" fill="#d9d9e6"/><rect x="312.9" y="27" width="2.6" height="168.5" fill="#dcdcea"/>
<line x1="21.4" y1="30.2" x2="21.4" y2="225.4" stroke="#4a4a4a" stroke-width="1"/>
<line x1="20.9" y1="224.9" x2="144.6" y2="224.9" stroke="#4a4a4a" stroke-width="1"/>
<line x1="21.4" y1="225.00" x2="24.4" y2="225.00" stroke="#4a4a4a" stroke-width="0.8"/>
<line x1="21.4" y1="217.29" x2="23.0" y2="217.29" stroke="#4a4a4a" stroke-width="0.8"/>
<line x1="21.4" y1="209.59" x2="23.0" y2="209.59" stroke="#4a4a4a" stroke-width="0.8"/>
<line x1="21.4" y1="201.88" x2="23.0" y2="201.88" stroke="#4a4a4a" stroke-width="0.8"/>
<line x1="21.4" y1="194.18" x2="24.4" y2="194.18" stroke="#4a4a4a" stroke-width="0.8"/>
<line x1="21.4" y1="186.47" x2="23.0" y2="186.47" stroke="#4a4a4a" stroke-width="0.8"/>
<line x1="21.4" y1="178.77" x2="23.0" y2="178.77" stroke="#4a4a4a" stroke-width="0.8"/>
<line x1="21.4" y1="171.06" x2="23.0" y2="171.06" stroke="#4a4a4a" stroke-width="0.8"/>
<line x1="21.4" y1="163.36" x2="24.4" y2="163.36" stroke="#4a4a4a" stroke-width="0.8"/>
<line x1="21.4" y1="155.66" x2="23.0" y2="155.66" stroke="#4a4a4a" stroke-width="0.8"/>
<line x1="21.4" y1="147.95" x2="23.0" y2="147.95" stroke="#4a4a4a" stroke-width="0.8"/>
<line x1="21.4" y1="140.25" x2="23.0" y2="140.25" stroke="#4a4a4a" stroke-width="0.8"/>
<line x1="21.4" y1="132.54" x2="24.4" y2="132.54" stroke="#4a4a4a" stroke-width="0.8"/>
<line x1="21.4" y1="124.83" x2="23.0" y2="124.83" stroke="#4a4a4a" stroke-width="0.8"/>
<line x1="21.4" y1="117.13" x2="23.0" y2="117.13" stroke="#4a4a4a" stroke-width="0.8"/>
<line x1="21.4" y1="109.43" x2="23.0" y2="109.43" stroke="#4a4a4a" stroke-width="0.8"/>
<line x1="21.4" y1="101.72" x2="24.4" y2="101.72" stroke="#4a4a4a" stroke-width="0.8"/>
<line x1="21.4" y1="94.01" x2="23.0" y2="94.01" stroke="#4a4a4a" stroke-width="0.8"/>
<line x1="21.4" y1="86.31" x2="23.0" y2="86.31" stroke="#4a4a4a" stroke-width="0.8"/>
<line x1="21.4" y1="78.61" x2="23.0" y2="78.61" stroke="#4a4a4a" stroke-width="0.8"/>
<line x1="21.4" y1="70.90" x2="24.4" y2="70.90" stroke="#4a4a4a" stroke-width="0.8"/>
<line x1="21.4" y1="63.19" x2="23.0" y2="63.19" stroke="#4a4a4a" stroke-width="0.8"/>
<line x1="21.4" y1="55.49" x2="23.0" y2="55.49" stroke="#4a4a4a" stroke-width="0.8"/>
<line x1="21.4" y1="47.78" x2="23.0" y2="47.78" stroke="#4a4a4a" stroke-width="0.8"/>
<line x1="21.4" y1="40.08" x2="24.4" y2="40.08" stroke="#4a4a4a" stroke-width="0.8"/>
<line x1="21.40" y1="224.9" x2="21.40" y2="221.9" stroke="#4a4a4a" stroke-width="0.8"/>
<line x1="29.09" y1="224.9" x2="29.09" y2="223.3" stroke="#4a4a4a" stroke-width="0.8"/>
<line x1="36.78" y1="224.9" x2="36.78" y2="223.3" stroke="#4a4a4a" stroke-width="0.8"/>
<line x1="44.47" y1="224.9" x2="44.47" y2="223.3" stroke="#4a4a4a" stroke-width="0.8"/>
<line x1="52.16" y1="224.9" x2="52.16" y2="221.9" stroke="#4a4a4a" stroke-width="0.8"/>
<line x1="59.85" y1="224.9" x2="59.85" y2="223.3" stroke="#4a4a4a" stroke-width="0.8"/>
<line x1="67.54" y1="224.9" x2="67.54" y2="223.3" stroke="#4a4a4a" stroke-width="0.8"/>
<line x1="75.23" y1="224.9" x2="75.23" y2="223.3" stroke="#4a4a4a" stroke-width="0.8"/>
<line x1="82.92" y1="224.9" x2="82.92" y2="221.9" stroke="#4a4a4a" stroke-width="0.8"/>
<line x1="90.61" y1="224.9" x2="90.61" y2="223.3" stroke="#4a4a4a" stroke-width="0.8"/>
<line x1="98.30" y1="224.9" x2="98.30" y2="223.3" stroke="#4a4a4a" stroke-width="0.8"/>
<line x1="105.99" y1="224.9" x2="105.99" y2="223.3" stroke="#4a4a4a" stroke-width="0.8"/>
<line x1="113.68" y1="224.9" x2="113.68" y2="221.9" stroke="#4a4a4a" stroke-width="0.8"/>
<line x1="121.37" y1="224.9" x2="121.37" y2="223.3" stroke="#4a4a4a" stroke-width="0.8"/>
<line x1="129.06" y1="224.9" x2="129.06" y2="223.3" stroke="#4a4a4a" stroke-width="0.8"/>
<line x1="136.75" y1="224.9" x2="136.75" y2="223.3" stroke="#4a4a4a" stroke-width="0.8"/>
<line x1="144.44" y1="224.9" x2="144.44" y2="221.9" stroke="#4a4a4a" stroke-width="0.8"/>
<text x="19.5" y="228.30" text-anchor="end" class="tl">0.8</text>
<text x="19.5" y="197.48" text-anchor="end" class="tl">1</text>
<text x="19.5" y="166.66" text-anchor="end" class="tl">1.2</text>
<text x="19.5" y="135.84" text-anchor="end" class="tl">1.4</text>
<text x="19.5" y="105.02" text-anchor="end" class="tl">1.6</text>
<text x="19.5" y="74.20" text-anchor="end" class="tl">1.8</text>
<text x="19.5" y="43.38" text-anchor="end" class="tl">2</text>
<text x="21.40" y="233.2" text-anchor="middle" class="tl">0</text>
<text x="52.16" y="233.2" text-anchor="middle" class="tl">0.2</text>
<text x="82.92" y="233.2" text-anchor="middle" class="tl">0.4</text>
<text x="113.68" y="233.2" text-anchor="middle" class="tl">0.6</text>
<text x="144.44" y="233.2" text-anchor="middle" class="tl">0.8</text>
<text x="83.2" y="243.0" text-anchor="middle" class="al">y (cm)</text>
<text transform="translate(6.6,127) rotate(-90)" text-anchor="middle" class="al">z (cm)</text>
<polyline points="21.4,147.6 26.6,147.6 45.1,114.5 45.1,29.8" fill="none" stroke="#283850" stroke-width="0.8" stroke-opacity="0.6"/><line x1="21.4" y1="195.0" x2="144.4" y2="195.0" stroke="#001850" stroke-width="1" stroke-opacity="0.55"/>
<line x1="189.9" y1="30.2" x2="189.9" y2="225.4" stroke="#4a4a4a" stroke-width="1"/>
<line x1="189.4" y1="224.9" x2="313.1" y2="224.9" stroke="#4a4a4a" stroke-width="1"/>
<line x1="189.9" y1="225.00" x2="192.9" y2="225.00" stroke="#4a4a4a" stroke-width="0.8"/>
<line x1="189.9" y1="217.29" x2="191.5" y2="217.29" stroke="#4a4a4a" stroke-width="0.8"/>
<line x1="189.9" y1="209.59" x2="191.5" y2="209.59" stroke="#4a4a4a" stroke-width="0.8"/>
<line x1="189.9" y1="201.88" x2="191.5" y2="201.88" stroke="#4a4a4a" stroke-width="0.8"/>
<line x1="189.9" y1="194.18" x2="192.9" y2="194.18" stroke="#4a4a4a" stroke-width="0.8"/>
<line x1="189.9" y1="186.47" x2="191.5" y2="186.47" stroke="#4a4a4a" stroke-width="0.8"/>
<line x1="189.9" y1="178.77" x2="191.5" y2="178.77" stroke="#4a4a4a" stroke-width="0.8"/>
<line x1="189.9" y1="171.06" x2="191.5" y2="171.06" stroke="#4a4a4a" stroke-width="0.8"/>
<line x1="189.9" y1="163.36" x2="192.9" y2="163.36" stroke="#4a4a4a" stroke-width="0.8"/>
<line x1="189.9" y1="155.66" x2="191.5" y2="155.66" stroke="#4a4a4a" stroke-width="0.8"/>
<line x1="189.9" y1="147.95" x2="191.5" y2="147.95" stroke="#4a4a4a" stroke-width="0.8"/>
<line x1="189.9" y1="140.25" x2="191.5" y2="140.25" stroke="#4a4a4a" stroke-width="0.8"/>
<line x1="189.9" y1="132.54" x2="192.9" y2="132.54" stroke="#4a4a4a" stroke-width="0.8"/>
<line x1="189.9" y1="124.83" x2="191.5" y2="124.83" stroke="#4a4a4a" stroke-width="0.8"/>
<line x1="189.9" y1="117.13" x2="191.5" y2="117.13" stroke="#4a4a4a" stroke-width="0.8"/>
<line x1="189.9" y1="109.43" x2="191.5" y2="109.43" stroke="#4a4a4a" stroke-width="0.8"/>
<line x1="189.9" y1="101.72" x2="192.9" y2="101.72" stroke="#4a4a4a" stroke-width="0.8"/>
<line x1="189.9" y1="94.01" x2="191.5" y2="94.01" stroke="#4a4a4a" stroke-width="0.8"/>
<line x1="189.9" y1="86.31" x2="191.5" y2="86.31" stroke="#4a4a4a" stroke-width="0.8"/>
<line x1="189.9" y1="78.61" x2="191.5" y2="78.61" stroke="#4a4a4a" stroke-width="0.8"/>
<line x1="189.9" y1="70.90" x2="192.9" y2="70.90" stroke="#4a4a4a" stroke-width="0.8"/>
<line x1="189.9" y1="63.19" x2="191.5" y2="63.19" stroke="#4a4a4a" stroke-width="0.8"/>
<line x1="189.9" y1="55.49" x2="191.5" y2="55.49" stroke="#4a4a4a" stroke-width="0.8"/>
<line x1="189.9" y1="47.78" x2="191.5" y2="47.78" stroke="#4a4a4a" stroke-width="0.8"/>
<line x1="189.9" y1="40.08" x2="192.9" y2="40.08" stroke="#4a4a4a" stroke-width="0.8"/>
<line x1="189.90" y1="224.9" x2="189.90" y2="221.9" stroke="#4a4a4a" stroke-width="0.8"/>
<line x1="197.59" y1="224.9" x2="197.59" y2="223.3" stroke="#4a4a4a" stroke-width="0.8"/>
<line x1="205.28" y1="224.9" x2="205.28" y2="223.3" stroke="#4a4a4a" stroke-width="0.8"/>
<line x1="212.97" y1="224.9" x2="212.97" y2="223.3" stroke="#4a4a4a" stroke-width="0.8"/>
<line x1="220.66" y1="224.9" x2="220.66" y2="221.9" stroke="#4a4a4a" stroke-width="0.8"/>
<line x1="228.35" y1="224.9" x2="228.35" y2="223.3" stroke="#4a4a4a" stroke-width="0.8"/>
<line x1="236.04" y1="224.9" x2="236.04" y2="223.3" stroke="#4a4a4a" stroke-width="0.8"/>
<line x1="243.73" y1="224.9" x2="243.73" y2="223.3" stroke="#4a4a4a" stroke-width="0.8"/>
<line x1="251.42" y1="224.9" x2="251.42" y2="221.9" stroke="#4a4a4a" stroke-width="0.8"/>
<line x1="259.11" y1="224.9" x2="259.11" y2="223.3" stroke="#4a4a4a" stroke-width="0.8"/>
<line x1="266.80" y1="224.9" x2="266.80" y2="223.3" stroke="#4a4a4a" stroke-width="0.8"/>
<line x1="274.49" y1="224.9" x2="274.49" y2="223.3" stroke="#4a4a4a" stroke-width="0.8"/>
<line x1="282.18" y1="224.9" x2="282.18" y2="221.9" stroke="#4a4a4a" stroke-width="0.8"/>
<line x1="289.87" y1="224.9" x2="289.87" y2="223.3" stroke="#4a4a4a" stroke-width="0.8"/>
<line x1="297.56" y1="224.9" x2="297.56" y2="223.3" stroke="#4a4a4a" stroke-width="0.8"/>
<line x1="305.25" y1="224.9" x2="305.25" y2="223.3" stroke="#4a4a4a" stroke-width="0.8"/>
<line x1="312.94" y1="224.9" x2="312.94" y2="221.9" stroke="#4a4a4a" stroke-width="0.8"/>
<text x="188.0" y="228.30" text-anchor="end" class="tl">0.8</text>
<text x="188.0" y="197.48" text-anchor="end" class="tl">1</text>
<text x="188.0" y="166.66" text-anchor="end" class="tl">1.2</text>
<text x="188.0" y="135.84" text-anchor="end" class="tl">1.4</text>
<text x="188.0" y="105.02" text-anchor="end" class="tl">1.6</text>
<text x="188.0" y="74.20" text-anchor="end" class="tl">1.8</text>
<text x="188.0" y="43.38" text-anchor="end" class="tl">2</text>
<text x="189.90" y="233.2" text-anchor="middle" class="tl">0</text>
<text x="220.66" y="233.2" text-anchor="middle" class="tl">0.2</text>
<text x="251.42" y="233.2" text-anchor="middle" class="tl">0.4</text>
<text x="282.18" y="233.2" text-anchor="middle" class="tl">0.6</text>
<text x="312.94" y="233.2" text-anchor="middle" class="tl">0.8</text>
<text x="251.7" y="243.0" text-anchor="middle" class="al">y (cm)</text>
<text transform="translate(175.1,127) rotate(-90)" text-anchor="middle" class="al">z (cm)</text>
<polyline points="189.9,147.6 195.1,147.6 213.6,114.5 213.6,29.8" fill="none" stroke="#283850" stroke-width="0.8" stroke-opacity="0.6"/><line x1="189.9" y1="195.0" x2="312.9" y2="195.0" stroke="#001850" stroke-width="1" stroke-opacity="0.55"/>
<g stroke="#f4f0e8" stroke-width="0.8" fill="none" stroke-linecap="round"><line x1="73.6" y1="139.2" x2="22.5" y2="162.1"/><polyline points="25.2,156.2 22.5,162.1 28.2,164.2"/></g>
<text x="73.7" y="139.2" class="tm">Tmax=23800 K</text>
<g stroke="#f4f0e8" stroke-width="0.8" fill="none" stroke-linecap="round"><line x1="237.4" y1="138.6" x2="191.4" y2="162.8"/><polyline points="194.2,157.1 191.4,162.8 197.0,164.4"/></g>
<text x="237.3" y="139.3" class="tm2">Tmax=22200 K</text>
<defs><linearGradient id="cb" x1="0" y1="0" x2="0" y2="1"><stop offset="0" stop-color="#ff0000"/><stop offset="0.25" stop-color="#ffff00"/><stop offset="0.5" stop-color="#00ff00"/><stop offset="0.75" stop-color="#00ffff"/><stop offset="1" stop-color="#0000ff"/></linearGradient></defs>
<rect x="250.5" y="59.2" width="12.5" height="39.8" fill="url(#cb)"/>
<text x="251.4" y="49.6" class="lg" style="font-size:8px">Temperature (K)</text>
<text x="268.9" y="63.5" class="lg">24000</text>
<text x="268.9" y="73.4" class="lg">18000</text>
<text x="268.9" y="83.0" class="lg">12000</text>
<text x="268.9" y="92.9" class="lg">6000</text>
<text x="268.9" y="101.7" class="lg">0</text>
<text x="93.9" y="269" text-anchor="middle" class="pl">(a)</text>
<text x="238.6" y="269" text-anchor="middle" class="pl">(b)</text>
</svg>
</div></body></html>
